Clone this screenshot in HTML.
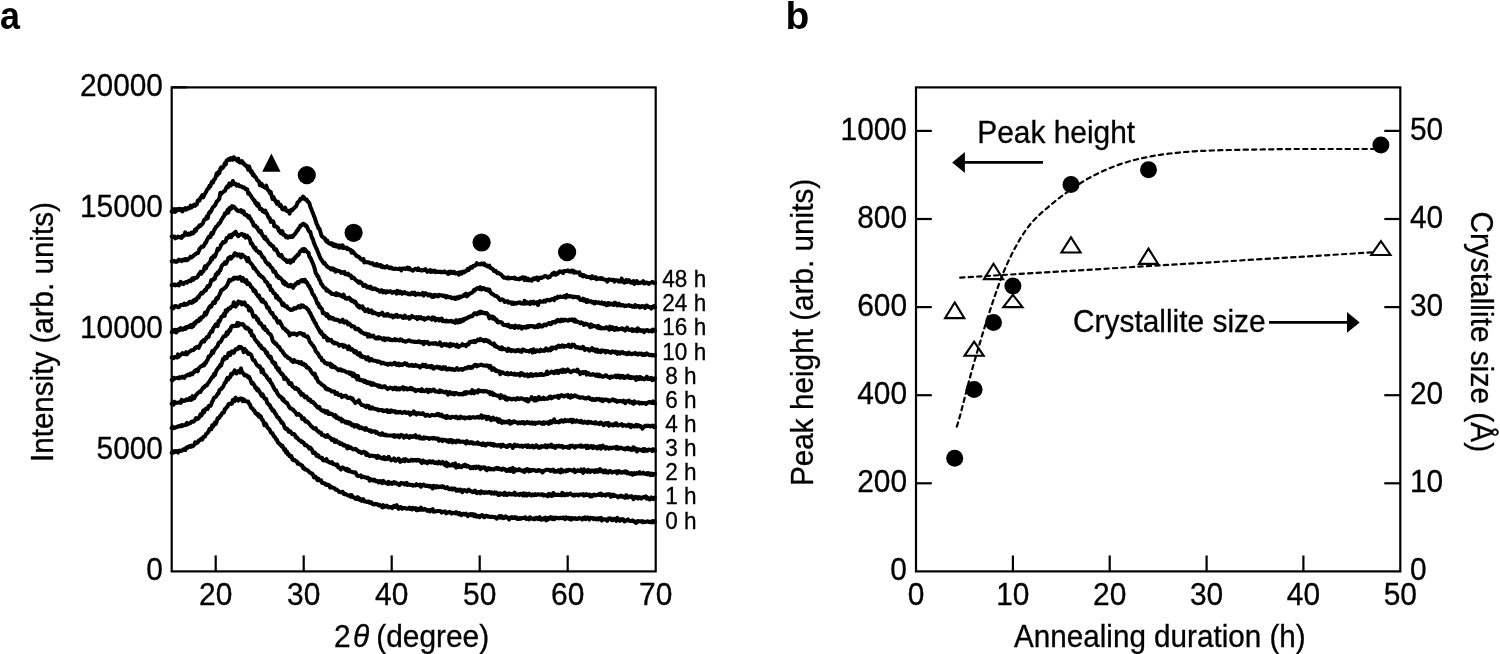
<!DOCTYPE html>
<html><head><meta charset="utf-8"><style>
html,body{margin:0;padding:0;background:#fff;width:1500px;height:654px;overflow:hidden;}
svg{display:block;will-change:transform;}
</style></head><body>
<svg width="1500" height="654" viewBox="0 0 1500 654">
<rect width="1500" height="654" fill="#fff"/>
<g font-family="'Liberation Sans', sans-serif" font-weight="bold" fill="#000">
<text transform="translate(0.00,28.50) scale(0.92,1)" font-size="39">a</text>
<text transform="translate(785.50,28.50)" font-size="39">b</text>
</g>
<g stroke="#000" stroke-width="2.2" fill="none">
<rect x="171.7" y="87.4" width="484.0" height="484.0"/>
<line x1="215.7" y1="571.4" x2="215.7" y2="555.4"/>
<line x1="303.7" y1="571.4" x2="303.7" y2="555.4"/>
<line x1="391.7" y1="571.4" x2="391.7" y2="555.4"/>
<line x1="479.7" y1="571.4" x2="479.7" y2="555.4"/>
<line x1="567.7" y1="571.4" x2="567.7" y2="555.4"/>
<line x1="171.7" y1="450.4" x2="186.9" y2="450.4"/>
<line x1="171.7" y1="329.3" x2="186.9" y2="329.3"/>
<line x1="171.7" y1="208.3" x2="186.9" y2="208.3"/>
<line x1="171.7" y1="87.3" x2="186.9" y2="87.3"/>
</g>
<g font-family="'Liberation Sans', sans-serif" fill="#000" stroke="#000" stroke-width="0.3">
<text transform="translate(163.00,580.00) scale(1.0,1.035)" font-size="29.9" text-anchor="end">0</text>
<text transform="translate(163.00,458.98) scale(1.0,1.035)" font-size="29.9" text-anchor="end">5000</text>
<text transform="translate(163.00,337.95) scale(1.0,1.035)" font-size="29.9" text-anchor="end">10000</text>
<text transform="translate(163.00,216.92) scale(1.0,1.035)" font-size="29.9" text-anchor="end">15000</text>
<text transform="translate(163.00,95.90) scale(1.0,1.035)" font-size="29.9" text-anchor="end">20000</text>
<text transform="translate(215.70,604.90) scale(1.0,1.035)" font-size="29.9" text-anchor="middle">20</text>
<text transform="translate(303.70,604.90) scale(1.0,1.035)" font-size="29.9" text-anchor="middle">30</text>
<text transform="translate(391.70,604.90) scale(1.0,1.035)" font-size="29.9" text-anchor="middle">40</text>
<text transform="translate(479.70,604.90) scale(1.0,1.035)" font-size="29.9" text-anchor="middle">50</text>
<text transform="translate(567.70,604.90) scale(1.0,1.035)" font-size="29.9" text-anchor="middle">60</text>
<text transform="translate(655.70,604.90) scale(1.0,1.035)" font-size="29.9" text-anchor="middle">70</text>
<text transform="translate(52.60,462.00) rotate(-90) scale(0.99,1.035)" font-size="29.9">Intensity (arb. units)</text>
<text transform="translate(334.00,646.80) scale(1.0,1.035)" font-size="29.9">2</text>
<text transform="translate(353.10,646.80) scale(1.0,1.035)" font-size="29.9" font-style="italic">θ</text>
<text transform="translate(376.20,646.80) scale(1.0,1.035)" font-size="29.9">(degree)</text>
<text transform="translate(665.30,528.50) scale(0.98,1.0)" font-size="23">0 h</text>
<text transform="translate(665.30,504.36) scale(0.98,1.0)" font-size="23">1 h</text>
<text transform="translate(665.30,480.22) scale(0.98,1.0)" font-size="23">2 h</text>
<text transform="translate(665.30,456.08) scale(0.98,1.0)" font-size="23">3 h</text>
<text transform="translate(665.30,431.94) scale(0.98,1.0)" font-size="23">4 h</text>
<text transform="translate(665.30,407.80) scale(0.98,1.0)" font-size="23">6 h</text>
<text transform="translate(665.30,383.66) scale(0.98,1.0)" font-size="23">8 h</text>
<text transform="translate(662.30,359.52) scale(0.98,1.0)" font-size="23">10 h</text>
<text transform="translate(662.30,335.38) scale(0.98,1.0)" font-size="23">16 h</text>
<text transform="translate(662.30,311.24) scale(0.98,1.0)" font-size="23">24 h</text>
<text transform="translate(662.30,287.10) scale(0.98,1.0)" font-size="23">48 h</text>
</g>
<g stroke="#000" stroke-width="4.0" fill="none" stroke-linejoin="round" stroke-linecap="round">
<path d="M171.7,452.8 172.6,452.9 173.5,452.4 174.4,451.7 175.3,451.9 176.2,451.2 177.1,451.8 178.0,452.6 178.9,450.9 179.8,450.5 180.7,451.1 181.6,450.8 182.5,450.3 183.4,449.2 184.3,449.6 185.2,449.9 186.1,447.9 187.0,448.3 187.9,446.7 188.8,446.9 189.7,446.0 190.6,446.9 191.5,445.6 192.4,446.4 193.3,445.8 194.2,444.9 195.1,442.3 196.0,443.4 196.9,443.1 197.8,442.6 198.7,440.4 199.6,440.5 200.5,439.3 201.4,438.6 202.3,439.6 203.2,436.9 204.1,436.7 205.0,436.6 205.9,434.2 206.8,433.5 207.7,432.7 208.6,431.5 209.5,429.0 210.4,429.2 211.3,429.3 212.2,425.2 213.1,426.5 214.0,424.6 214.9,422.5 215.8,424.1 216.7,421.6 217.6,418.2 218.5,418.3 219.4,417.6 220.3,415.5 221.2,415.2 222.1,413.2 223.0,412.8 223.9,412.6 224.8,409.1 225.7,409.0 226.6,407.1 227.5,406.7 228.4,404.2 229.3,404.0 230.2,403.6 231.1,404.0 232.0,403.5 232.9,399.8 233.8,399.8 234.7,401.1 235.6,397.6 236.5,399.1 237.4,399.2 238.3,400.6 239.2,399.7 240.1,398.4 241.0,398.4 241.9,398.7 242.8,401.2 243.7,399.3 244.6,400.0 245.5,401.3 246.4,401.3 247.3,401.8 248.2,401.6 249.1,403.8 250.0,404.4 250.9,407.4 251.8,408.1 252.7,408.5 253.6,410.5 254.5,410.6 255.4,413.3 256.3,413.2 257.2,414.9 258.1,413.9 259.0,416.8 259.9,415.7 260.8,416.4 261.7,419.3 262.6,419.8 263.5,422.0 264.4,425.3 265.3,423.3 266.2,424.6 267.1,426.7 268.0,428.2 268.9,428.8 269.8,430.0 270.7,432.2 271.6,433.3 272.5,433.2 273.4,435.4 274.3,436.8 275.2,437.1 276.1,439.6 277.0,439.8 277.9,442.6 278.8,443.1 279.7,444.2 280.6,444.7 281.5,446.3 282.4,445.8 283.3,447.7 284.2,450.0 285.1,449.0 286.0,452.5 286.9,451.4 287.8,454.4 288.7,454.0 289.6,456.2 290.5,456.6 291.4,456.1 292.3,459.1 293.2,460.1 294.1,459.7 295.0,460.3 295.9,461.2 296.8,461.3 297.7,463.7 298.6,463.2 299.5,464.3 300.4,464.5 301.3,465.3 302.2,465.5 303.1,468.2 304.0,467.8 304.9,469.4 305.8,469.4 306.7,469.6 307.6,470.6 308.5,471.1 309.4,472.3 310.3,472.7 311.2,473.5 312.1,473.5 313.0,474.7 313.9,477.4 314.8,476.4 315.7,476.8 316.6,478.7 317.5,480.2 318.4,478.7 319.3,480.4 320.2,480.7 321.1,480.4 322.0,482.9 322.9,482.8 323.8,483.4 324.7,483.3 325.6,484.6 326.5,484.3 327.4,485.1 328.3,484.8 329.2,485.1 330.1,487.5 331.0,486.6 331.9,487.6 332.8,487.8 333.7,488.0 334.6,488.4 335.5,489.7 336.4,489.5 337.3,490.1 338.2,490.7 339.1,492.0 340.0,492.1 340.9,492.3 341.8,492.0 342.7,491.7 343.6,493.8 344.5,494.2 345.4,493.7 346.3,494.5 347.2,495.0 348.1,495.4 349.0,495.8 349.9,495.1 350.8,496.8 351.7,495.1 352.6,497.0 353.5,497.1 354.4,497.7 355.3,498.8 356.2,498.9 357.1,497.3 358.0,497.3 358.9,499.6 359.8,498.6 360.7,499.7 361.6,500.8 362.5,499.3 363.4,499.3 364.3,501.4 365.2,501.5 366.1,501.6 367.0,502.1 367.9,501.7 368.8,501.5 369.7,502.8 370.6,502.5 371.5,502.3 372.4,504.1 373.3,503.9 374.2,504.5 375.1,503.7 376.0,504.2 376.9,504.1 377.8,504.4 378.7,505.4 379.6,504.9 380.5,505.9 381.4,506.1 382.3,507.5 383.2,505.1 384.1,507.0 385.0,506.4 385.9,506.5 386.8,505.6 387.7,506.4 388.6,507.4 389.5,506.9 390.4,507.2 391.3,507.0 392.2,508.1 393.1,507.3 394.0,505.8 394.9,507.0 395.8,506.1 396.7,505.2 397.6,507.3 398.5,508.8 399.4,507.8 400.3,507.0 401.2,507.2 402.1,508.8 403.0,508.1 403.9,508.1 404.8,508.0 405.7,508.2 406.6,508.8 407.5,508.7 408.4,508.5 409.3,507.6 410.2,508.9 411.1,508.0 412.0,509.5 412.9,507.8 413.8,508.7 414.7,508.9 415.6,508.0 416.5,510.3 417.4,510.2 418.3,508.9 419.2,509.9 420.1,509.7 421.0,507.5 421.9,509.7 422.8,509.6 423.7,509.7 424.6,508.9 425.5,509.6 426.4,509.8 427.3,510.9 428.2,510.3 429.1,510.1 430.0,511.3 430.9,509.9 431.8,510.1 432.7,509.1 433.6,511.7 434.5,511.3 435.4,511.4 436.3,511.3 437.2,511.0 438.1,511.1 439.0,510.9 439.9,511.0 440.8,511.3 441.7,512.6 442.6,512.0 443.5,511.6 444.4,511.4 445.3,511.5 446.2,513.3 447.1,512.6 448.0,512.5 448.9,512.3 449.8,511.8 450.7,512.7 451.6,513.6 452.5,512.7 453.4,513.0 454.3,513.1 455.2,513.4 456.1,512.2 457.0,513.4 457.9,513.0 458.8,514.4 459.7,513.2 460.6,514.4 461.5,515.2 462.4,513.9 463.3,513.7 464.2,514.4 465.1,514.4 466.0,513.7 466.9,514.9 467.8,516.1 468.7,514.5 469.6,514.7 470.5,514.1 471.4,515.2 472.3,514.1 473.2,514.3 474.1,516.2 475.0,514.6 475.9,516.2 476.8,516.7 477.7,515.8 478.6,516.1 479.5,517.2 480.4,515.7 481.3,515.5 482.2,515.0 483.1,516.2 484.0,517.3 484.9,517.0 485.8,515.7 486.7,515.8 487.6,516.2 488.5,516.8 489.4,516.5 490.3,516.9 491.2,517.0 492.1,516.7 493.0,516.9 493.9,517.2 494.8,517.0 495.7,517.5 496.6,518.6 497.5,517.7 498.4,517.3 499.3,516.1 500.2,517.7 501.1,516.0 502.0,516.4 502.9,518.2 503.8,518.1 504.7,517.5 505.6,516.4 506.5,517.4 507.4,517.3 508.3,518.3 509.2,519.5 510.1,518.1 511.0,517.3 511.9,517.1 512.8,518.0 513.7,517.9 514.6,517.2 515.5,518.2 516.4,517.3 517.3,519.0 518.2,519.0 519.1,519.0 520.0,517.9 520.9,518.7 521.8,518.2 522.7,518.0 523.6,518.1 524.5,517.4 525.4,517.3 526.3,519.0 527.2,518.3 528.1,518.6 529.0,519.3 529.9,517.2 530.8,518.0 531.7,518.7 532.6,518.9 533.5,518.3 534.4,519.4 535.3,518.8 536.2,517.7 537.1,517.9 538.0,519.2 538.9,518.9 539.8,517.2 540.7,519.6 541.6,519.0 542.5,519.5 543.4,518.2 544.3,518.3 545.2,517.6 546.1,520.4 547.0,518.3 547.9,519.6 548.8,517.9 549.7,518.5 550.6,517.2 551.5,518.1 552.4,519.1 553.3,517.5 554.2,519.2 555.1,518.7 556.0,517.6 556.9,518.0 557.8,518.1 558.7,518.4 559.6,518.0 560.5,517.8 561.4,518.2 562.3,517.7 563.2,517.5 564.1,518.4 565.0,519.1 565.9,517.3 566.8,518.5 567.7,518.0 568.6,517.8 569.5,519.1 570.4,518.1 571.3,519.6 572.2,518.0 573.1,518.8 574.0,518.4 574.9,518.0 575.8,519.0 576.7,518.5 577.6,519.1 578.5,518.6 579.4,517.8 580.3,518.6 581.2,518.7 582.1,519.4 583.0,518.0 583.9,518.7 584.8,517.4 585.7,519.2 586.6,517.9 587.5,517.4 588.4,518.7 589.3,519.6 590.2,517.7 591.1,518.0 592.0,518.3 592.9,518.0 593.8,519.2 594.7,518.3 595.6,518.4 596.5,519.4 597.4,518.4 598.3,519.4 599.2,518.3 600.1,518.2 601.0,517.8 601.9,520.6 602.8,519.0 603.7,519.4 604.6,519.3 605.5,519.4 606.4,519.4 607.3,520.8 608.2,518.6 609.1,518.3 610.0,518.7 610.9,518.5 611.8,520.2 612.7,520.2 613.6,519.0 614.5,518.7 615.4,519.5 616.3,520.9 617.2,517.7 618.1,520.3 619.0,519.2 619.9,520.8 620.8,519.3 621.7,520.0 622.6,519.1 623.5,519.6 624.4,521.5 625.3,521.1 626.2,520.3 627.1,520.0 628.0,519.4 628.9,520.6 629.8,520.9 630.7,521.0 631.6,521.0 632.5,520.4 633.4,521.2 634.3,521.3 635.2,522.4 636.1,522.9 637.0,521.4 637.9,521.0 638.8,521.6 639.7,521.2 640.6,521.2 641.5,521.7 642.4,521.0 643.3,522.3 644.2,521.8 645.1,522.1 646.0,521.8 646.9,521.4 647.8,521.3 648.7,521.9 649.6,521.7 650.5,522.3 651.4,522.2 652.3,521.2 653.2,522.3 654.1,521.2 655.0,521.8"/>
<path d="M171.7,428.1 172.6,426.6 173.5,428.2 174.4,428.0 175.3,427.6 176.2,427.2 177.1,427.0 178.0,426.2 178.9,426.5 179.8,426.1 180.7,426.3 181.6,425.0 182.5,425.9 183.4,425.5 184.3,425.0 185.2,424.5 186.1,425.0 187.0,422.8 187.9,424.2 188.8,423.6 189.7,423.3 190.6,422.9 191.5,421.6 192.4,421.4 193.3,421.7 194.2,420.9 195.1,420.1 196.0,418.0 196.9,419.1 197.8,418.9 198.7,418.1 199.6,416.6 200.5,414.2 201.4,415.6 202.3,413.8 203.2,410.6 204.1,412.4 205.0,409.6 205.9,408.7 206.8,408.2 207.7,408.9 208.6,406.1 209.5,405.5 210.4,405.8 211.3,404.4 212.2,401.5 213.1,400.1 214.0,397.8 214.9,397.1 215.8,396.9 216.7,395.6 217.6,393.9 218.5,393.5 219.4,390.2 220.3,389.6 221.2,389.1 222.1,387.7 223.0,387.0 223.9,385.0 224.8,382.9 225.7,382.5 226.6,379.7 227.5,377.8 228.4,379.4 229.3,377.6 230.2,377.1 231.1,373.8 232.0,374.5 232.9,373.4 233.8,372.5 234.7,370.4 235.6,372.3 236.5,373.4 237.4,372.5 238.3,371.1 239.2,371.6 240.1,372.5 241.0,368.4 241.9,371.8 242.8,373.0 243.7,373.7 244.6,375.5 245.5,375.5 246.4,375.2 247.3,375.9 248.2,377.4 249.1,376.9 250.0,378.7 250.9,381.1 251.8,383.6 252.7,382.5 253.6,384.0 254.5,385.6 255.4,388.1 256.3,387.7 257.2,390.5 258.1,389.0 259.0,391.0 259.9,392.2 260.8,394.4 261.7,395.8 262.6,394.3 263.5,396.1 264.4,398.5 265.3,398.7 266.2,399.0 267.1,402.8 268.0,403.5 268.9,404.8 269.8,405.2 270.7,408.0 271.6,408.1 272.5,410.7 273.4,410.2 274.3,411.5 275.2,413.8 276.1,414.3 277.0,416.7 277.9,417.6 278.8,417.7 279.7,419.8 280.6,420.6 281.5,422.8 282.4,422.6 283.3,423.9 284.2,426.4 285.1,428.3 286.0,429.1 286.9,428.5 287.8,429.6 288.7,431.6 289.6,431.2 290.5,431.4 291.4,433.1 292.3,434.2 293.2,434.0 294.1,434.1 295.0,435.1 295.9,437.5 296.8,437.2 297.7,438.4 298.6,439.5 299.5,440.5 300.4,440.6 301.3,441.9 302.2,441.6 303.1,442.7 304.0,442.9 304.9,445.3 305.8,445.1 306.7,445.3 307.6,446.3 308.5,447.1 309.4,448.6 310.3,447.6 311.2,448.8 312.1,450.0 313.0,453.0 313.9,452.6 314.8,452.6 315.7,454.0 316.6,455.8 317.5,454.8 318.4,455.4 319.3,457.3 320.2,457.4 321.1,458.1 322.0,457.8 322.9,460.1 323.8,460.5 324.7,460.1 325.6,460.7 326.5,459.1 327.4,461.5 328.3,461.4 329.2,462.3 330.1,462.9 331.0,462.6 331.9,462.0 332.8,464.0 333.7,463.7 334.6,464.5 335.5,464.7 336.4,465.4 337.3,464.4 338.2,467.5 339.1,467.2 340.0,468.3 340.9,469.4 341.8,468.4 342.7,467.4 343.6,468.4 344.5,468.5 345.4,469.4 346.3,470.2 347.2,468.9 348.1,471.0 349.0,469.9 349.9,471.6 350.8,471.6 351.7,471.8 352.6,472.3 353.5,472.3 354.4,472.6 355.3,472.2 356.2,473.8 357.1,475.6 358.0,476.1 358.9,476.0 359.8,475.9 360.7,475.3 361.6,477.3 362.5,476.5 363.4,476.8 364.3,477.0 365.2,477.6 366.1,477.5 367.0,478.1 367.9,477.6 368.8,478.5 369.7,480.7 370.6,479.2 371.5,479.4 372.4,480.2 373.3,480.6 374.2,479.5 375.1,480.4 376.0,481.4 376.9,481.1 377.8,481.2 378.7,482.5 379.6,481.0 380.5,481.8 381.4,481.5 382.3,483.2 383.2,480.8 384.1,481.9 385.0,482.1 385.9,483.1 386.8,483.2 387.7,483.9 388.6,481.8 389.5,483.7 390.4,483.0 391.3,482.8 392.2,483.8 393.1,482.8 394.0,482.0 394.9,483.3 395.8,482.6 396.7,483.3 397.6,484.1 398.5,484.1 399.4,485.1 400.3,483.8 401.2,482.8 402.1,483.5 403.0,483.4 403.9,483.2 404.8,484.5 405.7,483.8 406.6,482.8 407.5,484.9 408.4,484.3 409.3,484.8 410.2,484.7 411.1,485.1 412.0,484.8 412.9,485.7 413.8,485.2 414.7,485.3 415.6,485.4 416.5,484.1 417.4,485.1 418.3,485.1 419.2,485.6 420.1,484.5 421.0,486.8 421.9,485.7 422.8,484.8 423.7,484.5 424.6,485.6 425.5,485.9 426.4,485.5 427.3,486.1 428.2,485.7 429.1,486.6 430.0,485.8 430.9,486.3 431.8,487.2 432.7,488.5 433.6,485.9 434.5,486.4 435.4,486.2 436.3,487.5 437.2,486.1 438.1,486.7 439.0,487.2 439.9,486.5 440.8,486.7 441.7,487.2 442.6,486.1 443.5,486.7 444.4,487.6 445.3,488.2 446.2,488.1 447.1,487.0 448.0,488.2 448.9,489.2 449.8,489.2 450.7,488.8 451.6,488.3 452.5,489.6 453.4,488.8 454.3,488.5 455.2,488.8 456.1,490.6 457.0,489.8 457.9,490.6 458.8,489.5 459.7,490.6 460.6,489.6 461.5,490.0 462.4,492.1 463.3,490.9 464.2,490.0 465.1,490.4 466.0,490.8 466.9,491.6 467.8,490.4 468.7,489.5 469.6,490.7 470.5,491.0 471.4,491.2 472.3,492.2 473.2,491.5 474.1,491.9 475.0,490.6 475.9,492.2 476.8,493.2 477.7,492.3 478.6,492.0 479.5,492.0 480.4,493.3 481.3,491.4 482.2,492.1 483.1,492.6 484.0,492.9 484.9,492.1 485.8,492.7 486.7,492.3 487.6,492.7 488.5,492.6 489.4,491.9 490.3,492.8 491.2,493.6 492.1,492.3 493.0,492.9 493.9,493.6 494.8,492.4 495.7,493.4 496.6,492.5 497.5,494.2 498.4,495.1 499.3,495.0 500.2,493.3 501.1,494.1 502.0,493.7 502.9,493.7 503.8,494.8 504.7,492.7 505.6,494.6 506.5,493.8 507.4,494.9 508.3,494.0 509.2,493.4 510.1,494.2 511.0,494.6 511.9,494.1 512.8,494.5 513.7,493.7 514.6,492.6 515.5,494.9 516.4,494.7 517.3,494.4 518.2,494.3 519.1,495.1 520.0,494.0 520.9,493.8 521.8,494.3 522.7,495.3 523.6,493.4 524.5,495.4 525.4,494.0 526.3,493.7 527.2,495.5 528.1,494.5 529.0,493.6 529.9,494.4 530.8,495.3 531.7,495.5 532.6,494.3 533.5,495.0 534.4,495.2 535.3,494.2 536.2,495.0 537.1,494.7 538.0,494.3 538.9,494.3 539.8,494.7 540.7,494.7 541.6,494.2 542.5,494.3 543.4,495.5 544.3,494.8 545.2,495.2 546.1,495.5 547.0,495.0 547.9,496.2 548.8,493.9 549.7,495.1 550.6,494.3 551.5,495.9 552.4,495.8 553.3,493.0 554.2,493.8 555.1,495.0 556.0,495.1 556.9,495.1 557.8,494.5 558.7,494.9 559.6,495.0 560.5,494.5 561.4,495.3 562.3,492.8 563.2,495.0 564.1,493.8 565.0,495.3 565.9,494.4 566.8,493.9 567.7,494.9 568.6,493.9 569.5,493.9 570.4,493.4 571.3,494.6 572.2,495.0 573.1,495.4 574.0,494.6 574.9,495.5 575.8,494.7 576.7,494.6 577.6,495.1 578.5,495.5 579.4,494.5 580.3,494.6 581.2,494.6 582.1,494.8 583.0,494.1 583.9,495.6 584.8,494.5 585.7,495.2 586.6,494.2 587.5,495.1 588.4,495.2 589.3,494.6 590.2,496.4 591.1,495.2 592.0,496.3 592.9,495.7 593.8,494.5 594.7,494.7 595.6,495.4 596.5,495.1 597.4,495.1 598.3,494.9 599.2,493.8 600.1,495.0 601.0,493.6 601.9,495.5 602.8,494.8 603.7,494.8 604.6,495.2 605.5,495.6 606.4,494.4 607.3,494.2 608.2,494.7 609.1,494.0 610.0,494.9 610.9,496.8 611.8,494.9 612.7,496.2 613.6,494.7 614.5,496.0 615.4,495.6 616.3,495.9 617.2,496.4 618.1,497.3 619.0,496.2 619.9,496.2 620.8,495.5 621.7,496.7 622.6,496.2 623.5,497.1 624.4,496.5 625.3,497.9 626.2,495.2 627.1,496.6 628.0,497.5 628.9,496.7 629.8,496.5 630.7,496.9 631.6,496.2 632.5,497.4 633.4,499.2 634.3,498.3 635.2,496.7 636.1,496.9 637.0,497.3 637.9,498.4 638.8,497.1 639.7,497.3 640.6,498.5 641.5,498.5 642.4,497.6 643.3,497.1 644.2,496.8 645.1,497.5 646.0,496.4 646.9,498.7 647.8,497.7 648.7,498.5 649.6,499.6 650.5,499.1 651.4,497.4 652.3,498.9 653.2,499.2 654.1,497.8 655.0,497.7"/>
<path d="M171.7,403.8 172.6,402.6 173.5,404.8 174.4,401.7 175.3,402.5 176.2,402.9 177.1,402.7 178.0,402.8 178.9,402.6 179.8,402.0 180.7,402.8 181.6,399.9 182.5,401.4 183.4,400.5 184.3,400.9 185.2,400.7 186.1,399.4 187.0,399.3 187.9,400.1 188.8,399.4 189.7,398.1 190.6,400.0 191.5,399.8 192.4,396.1 193.3,397.1 194.2,398.4 195.1,396.3 196.0,395.1 196.9,394.1 197.8,393.1 198.7,392.6 199.6,391.5 200.5,391.9 201.4,390.0 202.3,389.1 203.2,387.5 204.1,387.6 205.0,385.8 205.9,385.4 206.8,385.5 207.7,383.7 208.6,382.6 209.5,381.3 210.4,379.8 211.3,378.4 212.2,377.0 213.1,376.9 214.0,373.7 214.9,375.0 215.8,372.3 216.7,370.1 217.6,369.0 218.5,367.5 219.4,367.1 220.3,364.8 221.2,365.5 222.1,362.1 223.0,359.1 223.9,359.7 224.8,357.0 225.7,358.1 226.6,358.2 227.5,356.6 228.4,353.2 229.3,352.9 230.2,355.0 231.1,352.4 232.0,351.2 232.9,351.7 233.8,352.8 234.7,351.0 235.6,349.2 236.5,349.1 237.4,349.2 238.3,347.5 239.2,346.8 240.1,348.1 241.0,347.0 241.9,348.3 242.8,348.9 243.7,352.1 244.6,348.9 245.5,350.4 246.4,351.0 247.3,352.4 248.2,354.0 249.1,353.3 250.0,354.1 250.9,354.4 251.8,356.5 252.7,359.5 253.6,360.3 254.5,360.3 255.4,362.3 256.3,363.9 257.2,365.5 258.1,365.5 259.0,367.0 259.9,366.4 260.8,368.3 261.7,372.3 262.6,369.5 263.5,372.6 264.4,374.3 265.3,374.9 266.2,375.7 267.1,377.6 268.0,378.9 268.9,380.1 269.8,379.7 270.7,382.7 271.6,383.3 272.5,385.0 273.4,387.0 274.3,388.7 275.2,390.2 276.1,390.2 277.0,392.7 277.9,394.1 278.8,395.3 279.7,396.7 280.6,396.5 281.5,397.6 282.4,399.6 283.3,398.8 284.2,401.3 285.1,401.7 286.0,402.9 286.9,402.7 287.8,404.4 288.7,406.1 289.6,407.7 290.5,408.6 291.4,408.6 292.3,409.4 293.2,409.7 294.1,411.4 295.0,411.7 295.9,413.2 296.8,414.8 297.7,414.2 298.6,413.8 299.5,415.1 300.4,415.4 301.3,416.3 302.2,419.0 303.1,418.9 304.0,418.3 304.9,420.7 305.8,421.8 306.7,421.3 307.6,421.8 308.5,422.8 309.4,424.0 310.3,425.0 311.2,426.2 312.1,427.0 313.0,427.8 313.9,428.7 314.8,428.9 315.7,428.1 316.6,429.9 317.5,431.0 318.4,431.2 319.3,432.8 320.2,432.5 321.1,432.7 322.0,435.0 322.9,435.0 323.8,435.2 324.7,436.2 325.6,436.8 326.5,436.7 327.4,435.0 328.3,436.8 329.2,437.4 330.1,437.4 331.0,438.8 331.9,440.0 332.8,439.2 333.7,439.2 334.6,442.0 335.5,440.7 336.4,440.6 337.3,442.1 338.2,442.7 339.1,442.4 340.0,443.9 340.9,443.4 341.8,443.5 342.7,444.7 343.6,445.5 344.5,444.8 345.4,445.9 346.3,445.9 347.2,448.4 348.1,446.1 349.0,448.0 349.9,447.2 350.8,447.5 351.7,448.4 352.6,448.9 353.5,449.5 354.4,449.2 355.3,448.8 356.2,449.3 357.1,450.5 358.0,450.9 358.9,451.9 359.8,451.6 360.7,452.5 361.6,453.2 362.5,452.5 363.4,451.7 364.3,452.2 365.2,452.3 366.1,454.9 367.0,453.4 367.9,455.3 368.8,455.1 369.7,456.2 370.6,455.9 371.5,455.4 372.4,455.6 373.3,456.0 374.2,456.3 375.1,456.0 376.0,456.6 376.9,458.0 377.8,455.8 378.7,457.4 379.6,456.8 380.5,457.8 381.4,458.4 382.3,457.9 383.2,458.7 384.1,457.1 385.0,459.3 385.9,458.1 386.8,459.1 387.7,458.9 388.6,456.9 389.5,458.4 390.4,459.3 391.3,460.3 392.2,459.5 393.1,459.5 394.0,458.4 394.9,460.6 395.8,460.9 396.7,459.7 397.6,459.5 398.5,458.5 399.4,460.5 400.3,461.9 401.2,460.4 402.1,460.9 403.0,460.4 403.9,459.3 404.8,461.1 405.7,459.2 406.6,460.0 407.5,460.5 408.4,461.0 409.3,460.7 410.2,460.8 411.1,460.0 412.0,459.7 412.9,460.8 413.8,460.3 414.7,459.9 415.6,460.0 416.5,460.7 417.4,459.7 418.3,460.2 419.2,460.1 420.1,461.5 421.0,461.8 421.9,463.0 422.8,460.5 423.7,461.2 424.6,462.4 425.5,461.7 426.4,461.7 427.3,463.3 428.2,461.8 429.1,461.3 430.0,461.2 430.9,462.5 431.8,462.6 432.7,461.4 433.6,461.8 434.5,463.0 435.4,463.1 436.3,462.3 437.2,463.3 438.1,463.4 439.0,461.7 439.9,462.9 440.8,463.6 441.7,463.0 442.6,461.9 443.5,463.5 444.4,464.4 445.3,465.2 446.2,462.5 447.1,466.2 448.0,463.6 448.9,465.3 449.8,465.6 450.7,465.5 451.6,465.0 452.5,464.1 453.4,465.6 454.3,464.7 455.2,463.4 456.1,467.6 457.0,466.1 457.9,467.0 458.8,465.0 459.7,466.9 460.6,467.1 461.5,467.2 462.4,466.1 463.3,465.3 464.2,466.1 465.1,464.7 466.0,465.2 466.9,466.6 467.8,465.9 468.7,466.6 469.6,466.7 470.5,468.3 471.4,468.0 472.3,467.0 473.2,468.1 474.1,466.7 475.0,467.1 475.9,468.1 476.8,466.6 477.7,467.4 478.6,466.7 479.5,467.9 480.4,469.1 481.3,467.4 482.2,468.2 483.1,467.5 484.0,467.3 484.9,467.4 485.8,469.5 486.7,470.2 487.6,468.9 488.5,468.1 489.4,469.2 490.3,468.5 491.2,469.4 492.1,469.1 493.0,469.2 493.9,469.5 494.8,468.6 495.7,468.8 496.6,467.9 497.5,468.9 498.4,468.2 499.3,469.2 500.2,468.7 501.1,469.5 502.0,469.8 502.9,468.5 503.8,469.0 504.7,468.9 505.6,470.2 506.5,471.0 507.4,470.4 508.3,469.5 509.2,470.9 510.1,468.8 511.0,471.0 511.9,469.5 512.8,467.9 513.7,472.0 514.6,471.2 515.5,469.3 516.4,470.2 517.3,470.0 518.2,470.3 519.1,469.1 520.0,469.7 520.9,470.6 521.8,470.5 522.7,471.2 523.6,470.4 524.5,472.1 525.4,469.9 526.3,470.6 527.2,469.0 528.1,469.5 529.0,471.5 529.9,469.8 530.8,470.9 531.7,470.5 532.6,469.8 533.5,470.3 534.4,470.2 535.3,470.2 536.2,471.2 537.1,471.1 538.0,470.2 538.9,469.9 539.8,470.8 540.7,470.5 541.6,471.3 542.5,472.5 543.4,471.2 544.3,470.5 545.2,470.4 546.1,469.8 547.0,469.8 547.9,469.7 548.8,470.1 549.7,470.1 550.6,471.0 551.5,470.1 552.4,470.3 553.3,469.5 554.2,471.6 555.1,470.8 556.0,471.7 556.9,471.0 557.8,471.5 558.7,470.2 559.6,471.0 560.5,472.5 561.4,469.5 562.3,471.3 563.2,471.7 564.1,470.8 565.0,471.0 565.9,471.4 566.8,470.0 567.7,470.8 568.6,469.8 569.5,470.0 570.4,470.0 571.3,470.4 572.2,470.6 573.1,470.9 574.0,469.5 574.9,472.1 575.8,471.5 576.7,471.1 577.6,470.3 578.5,470.5 579.4,471.0 580.3,471.0 581.2,469.4 582.1,471.2 583.0,472.9 583.9,469.3 584.8,471.5 585.7,471.0 586.6,470.6 587.5,471.8 588.4,469.9 589.3,470.9 590.2,471.9 591.1,470.7 592.0,470.5 592.9,471.0 593.8,470.6 594.7,472.1 595.6,470.3 596.5,471.7 597.4,470.0 598.3,471.6 599.2,471.0 600.1,469.1 601.0,471.1 601.9,470.3 602.8,470.9 603.7,472.4 604.6,470.4 605.5,470.5 606.4,472.5 607.3,471.5 608.2,472.6 609.1,471.7 610.0,470.8 610.9,471.5 611.8,472.5 612.7,472.4 613.6,471.7 614.5,471.8 615.4,471.7 616.3,471.4 617.2,473.3 618.1,471.9 619.0,471.1 619.9,471.7 620.8,472.7 621.7,472.7 622.6,472.2 623.5,471.8 624.4,472.5 625.3,471.2 626.2,471.6 627.1,473.3 628.0,472.4 628.9,473.2 629.8,473.9 630.7,473.5 631.6,473.1 632.5,474.8 633.4,473.8 634.3,473.1 635.2,474.0 636.1,473.8 637.0,472.9 637.9,473.6 638.8,473.5 639.7,472.2 640.6,473.6 641.5,473.5 642.4,473.5 643.3,472.6 644.2,473.6 645.1,473.9 646.0,474.0 646.9,473.1 647.8,474.5 648.7,473.1 649.6,473.9 650.5,475.1 651.4,473.6 652.3,473.8 653.2,475.0 654.1,474.0 655.0,474.0"/>
<path d="M171.7,379.9 172.6,380.4 173.5,377.7 174.4,378.7 175.3,378.3 176.2,378.1 177.1,378.0 178.0,377.8 178.9,378.4 179.8,377.2 180.7,377.8 181.6,377.8 182.5,376.6 183.4,377.0 184.3,378.0 185.2,376.6 186.1,375.5 187.0,375.6 187.9,374.5 188.8,375.2 189.7,375.3 190.6,373.4 191.5,373.5 192.4,374.2 193.3,372.2 194.2,372.2 195.1,370.5 196.0,370.1 196.9,369.6 197.8,371.3 198.7,368.3 199.6,367.4 200.5,366.6 201.4,366.1 202.3,366.0 203.2,364.7 204.1,365.5 205.0,362.8 205.9,362.9 206.8,360.7 207.7,359.8 208.6,356.6 209.5,356.8 210.4,355.6 211.3,354.2 212.2,351.1 213.1,353.0 214.0,350.5 214.9,349.2 215.8,348.1 216.7,346.9 217.6,346.2 218.5,343.1 219.4,342.2 220.3,342.2 221.2,340.8 222.1,339.0 223.0,337.5 223.9,336.1 224.8,335.8 225.7,336.1 226.6,332.4 227.5,334.3 228.4,332.5 229.3,330.0 230.2,330.6 231.1,327.1 232.0,325.9 232.9,325.8 233.8,326.3 234.7,326.0 235.6,325.4 236.5,325.8 237.4,322.8 238.3,325.8 239.2,323.4 240.1,324.2 241.0,324.6 241.9,324.0 242.8,324.1 243.7,325.0 244.6,326.7 245.5,328.0 246.4,328.6 247.3,327.5 248.2,328.6 249.1,329.4 250.0,332.2 250.9,330.5 251.8,335.5 252.7,334.8 253.6,335.8 254.5,338.3 255.4,340.2 256.3,340.6 257.2,342.4 258.1,342.5 259.0,344.8 259.9,345.9 260.8,345.6 261.7,348.3 262.6,348.1 263.5,349.2 264.4,349.3 265.3,351.1 266.2,353.3 267.1,352.4 268.0,355.6 268.9,356.6 269.8,357.8 270.7,356.7 271.6,360.0 272.5,362.1 273.4,362.1 274.3,364.2 275.2,363.2 276.1,367.2 277.0,367.2 277.9,369.8 278.8,368.5 279.7,371.9 280.6,372.3 281.5,374.3 282.4,374.0 283.3,375.4 284.2,378.9 285.1,377.3 286.0,378.5 286.9,379.8 287.8,380.2 288.7,382.9 289.6,384.2 290.5,383.1 291.4,383.2 292.3,386.3 293.2,387.1 294.1,387.6 295.0,388.7 295.9,387.9 296.8,389.2 297.7,389.0 298.6,389.8 299.5,392.4 300.4,391.9 301.3,394.9 302.2,393.9 303.1,394.1 304.0,395.9 304.9,397.4 305.8,397.1 306.7,396.6 307.6,398.5 308.5,400.0 309.4,399.3 310.3,399.8 311.2,402.0 312.1,402.1 313.0,401.9 313.9,403.3 314.8,403.8 315.7,405.4 316.6,406.0 317.5,407.5 318.4,407.9 319.3,406.9 320.2,409.0 321.1,410.0 322.0,410.2 322.9,411.2 323.8,410.5 324.7,410.7 325.6,412.6 326.5,411.5 327.4,411.2 328.3,414.0 329.2,413.1 330.1,413.9 331.0,413.5 331.9,414.0 332.8,414.6 333.7,415.7 334.6,416.7 335.5,415.2 336.4,418.0 337.3,417.0 338.2,417.6 339.1,419.3 340.0,419.2 340.9,418.6 341.8,421.5 342.7,419.9 343.6,421.1 344.5,421.4 345.4,422.6 346.3,421.6 347.2,423.0 348.1,422.0 349.0,423.7 349.9,422.6 350.8,423.3 351.7,425.3 352.6,424.4 353.5,424.6 354.4,426.6 355.3,425.5 356.2,425.0 357.1,426.6 358.0,425.6 358.9,427.7 359.8,428.2 360.7,427.2 361.6,427.6 362.5,428.5 363.4,428.8 364.3,428.4 365.2,429.8 366.1,428.2 367.0,429.7 367.9,430.0 368.8,430.4 369.7,431.1 370.6,430.3 371.5,431.9 372.4,431.6 373.3,431.5 374.2,431.2 375.1,431.5 376.0,432.9 376.9,432.1 377.8,433.1 378.7,434.0 379.6,434.2 380.5,434.8 381.4,433.6 382.3,433.2 383.2,434.9 384.1,434.5 385.0,435.3 385.9,434.6 386.8,435.6 387.7,435.4 388.6,435.4 389.5,435.4 390.4,435.4 391.3,435.4 392.2,435.4 393.1,436.1 394.0,435.0 394.9,436.8 395.8,435.5 396.7,436.4 397.6,435.6 398.5,435.6 399.4,437.3 400.3,435.6 401.2,434.9 402.1,435.4 403.0,435.7 403.9,437.7 404.8,436.2 405.7,436.8 406.6,435.4 407.5,436.5 408.4,436.8 409.3,437.8 410.2,436.0 411.1,437.0 412.0,436.9 412.9,436.0 413.8,436.8 414.7,436.7 415.6,435.2 416.5,437.5 417.4,437.5 418.3,436.9 419.2,436.3 420.1,438.5 421.0,437.6 421.9,438.3 422.8,438.7 423.7,437.3 424.6,438.4 425.5,437.6 426.4,437.8 427.3,437.9 428.2,438.0 429.1,439.0 430.0,438.3 430.9,438.2 431.8,438.1 432.7,438.7 433.6,437.8 434.5,438.2 435.4,438.7 436.3,438.4 437.2,438.8 438.1,438.5 439.0,440.6 439.9,440.2 440.8,439.6 441.7,439.4 442.6,441.2 443.5,439.9 444.4,439.8 445.3,440.2 446.2,440.3 447.1,441.3 448.0,440.4 448.9,442.1 449.8,440.0 450.7,441.3 451.6,440.2 452.5,442.4 453.4,440.9 454.3,441.2 455.2,442.0 456.1,442.4 457.0,440.7 457.9,441.4 458.8,440.7 459.7,441.9 460.6,441.8 461.5,441.7 462.4,441.6 463.3,441.9 464.2,441.7 465.1,442.8 466.0,443.6 466.9,441.1 467.8,442.5 468.7,442.4 469.6,443.2 470.5,442.2 471.4,442.9 472.3,442.3 473.2,443.7 474.1,443.3 475.0,443.2 475.9,443.7 476.8,443.3 477.7,442.4 478.6,444.1 479.5,444.0 480.4,443.7 481.3,444.7 482.2,445.0 483.1,443.3 484.0,443.6 484.9,445.5 485.8,445.4 486.7,443.9 487.6,443.6 488.5,444.1 489.4,444.3 490.3,443.6 491.2,444.8 492.1,443.9 493.0,444.0 493.9,445.7 494.8,444.6 495.7,445.1 496.6,445.6 497.5,445.8 498.4,445.0 499.3,445.4 500.2,444.8 501.1,446.8 502.0,446.0 502.9,444.7 503.8,445.6 504.7,446.2 505.6,446.0 506.5,447.1 507.4,446.8 508.3,445.4 509.2,445.8 510.1,444.9 511.0,446.1 511.9,446.1 512.8,448.0 513.7,446.1 514.6,444.5 515.5,445.6 516.4,446.2 517.3,445.2 518.2,445.5 519.1,445.9 520.0,446.5 520.9,446.1 521.8,445.6 522.7,446.9 523.6,445.9 524.5,446.0 525.4,445.4 526.3,445.8 527.2,446.9 528.1,445.3 529.0,446.4 529.9,447.1 530.8,446.3 531.7,446.7 532.6,445.7 533.5,447.6 534.4,447.4 535.3,446.8 536.2,445.3 537.1,445.8 538.0,447.3 538.9,447.9 539.8,446.8 540.7,447.5 541.6,446.1 542.5,446.4 543.4,446.5 544.3,446.8 545.2,445.3 546.1,447.2 547.0,447.4 547.9,445.6 548.8,445.4 549.7,446.7 550.6,445.9 551.5,444.6 552.4,447.0 553.3,446.5 554.2,446.0 555.1,448.0 556.0,446.5 556.9,445.8 557.8,446.5 558.7,445.6 559.6,445.9 560.5,446.7 561.4,446.0 562.3,446.1 563.2,447.7 564.1,447.1 565.0,447.1 565.9,446.9 566.8,446.8 567.7,447.6 568.6,446.5 569.5,447.9 570.4,445.8 571.3,446.3 572.2,445.5 573.1,446.3 574.0,446.9 574.9,447.7 575.8,446.1 576.7,446.6 577.6,446.3 578.5,446.1 579.4,445.7 580.3,446.7 581.2,445.4 582.1,446.7 583.0,446.7 583.9,446.2 584.8,445.9 585.7,445.7 586.6,448.1 587.5,445.7 588.4,447.9 589.3,447.2 590.2,446.5 591.1,446.0 592.0,447.6 592.9,448.2 593.8,446.2 594.7,446.7 595.6,447.7 596.5,447.2 597.4,448.5 598.3,446.6 599.2,447.5 600.1,446.2 601.0,448.7 601.9,446.6 602.8,445.5 603.7,447.1 604.6,447.2 605.5,448.7 606.4,447.1 607.3,447.4 608.2,447.9 609.1,448.7 610.0,447.5 610.9,448.3 611.8,448.0 612.7,447.4 613.6,447.7 614.5,447.7 615.4,447.1 616.3,448.7 617.2,446.8 618.1,448.8 619.0,448.7 619.9,448.0 620.8,447.5 621.7,448.0 622.6,448.6 623.5,448.9 624.4,448.6 625.3,449.3 626.2,448.2 627.1,448.9 628.0,447.6 628.9,449.4 629.8,449.1 630.7,448.7 631.6,450.0 632.5,449.7 633.4,447.2 634.3,449.4 635.2,448.3 636.1,450.3 637.0,451.4 637.9,449.2 638.8,449.7 639.7,449.5 640.6,450.0 641.5,450.3 642.4,450.8 643.3,449.1 644.2,451.1 645.1,449.2 646.0,450.2 646.9,450.9 647.8,450.6 648.7,449.4 649.6,449.6 650.5,449.8 651.4,450.1 652.3,451.0 653.2,449.2 654.1,450.6 655.0,450.7"/>
<path d="M171.7,357.5 172.6,357.4 173.5,358.1 174.4,357.1 175.3,357.2 176.2,356.8 177.1,357.5 178.0,354.4 178.9,356.6 179.8,355.2 180.7,354.9 181.6,354.1 182.5,353.1 183.4,354.0 184.3,353.5 185.2,354.2 186.1,352.2 187.0,354.3 187.9,353.0 188.8,352.2 189.7,351.4 190.6,350.9 191.5,350.2 192.4,350.2 193.3,350.1 194.2,349.4 195.1,347.7 196.0,348.0 196.9,346.8 197.8,347.0 198.7,347.8 199.6,345.9 200.5,344.2 201.4,342.2 202.3,341.5 203.2,340.4 204.1,341.7 205.0,339.3 205.9,339.0 206.8,337.2 207.7,336.8 208.6,336.9 209.5,333.7 210.4,332.8 211.3,331.1 212.2,331.7 213.1,328.5 214.0,327.2 214.9,325.7 215.8,324.4 216.7,325.1 217.6,326.1 218.5,321.0 219.4,321.8 220.3,319.8 221.2,317.0 222.1,316.7 223.0,315.6 223.9,313.9 224.8,315.8 225.7,310.2 226.6,311.8 227.5,310.6 228.4,308.6 229.3,308.5 230.2,308.5 231.1,306.8 232.0,306.4 232.9,306.0 233.8,302.2 234.7,306.1 235.6,306.7 236.5,304.8 237.4,304.6 238.3,301.5 239.2,302.9 240.1,302.0 241.0,302.4 241.9,304.5 242.8,302.7 243.7,304.0 244.6,302.4 245.5,305.0 246.4,305.9 247.3,305.7 248.2,306.5 249.1,310.5 250.0,308.1 250.9,309.5 251.8,311.0 252.7,314.5 253.6,316.8 254.5,316.0 255.4,316.0 256.3,317.4 257.2,320.1 258.1,319.0 259.0,322.7 259.9,323.7 260.8,323.4 261.7,325.1 262.6,326.3 263.5,328.2 264.4,326.6 265.3,330.0 266.2,329.6 267.1,330.4 268.0,332.5 268.9,333.4 269.8,334.0 270.7,334.7 271.6,336.6 272.5,340.2 273.4,342.0 274.3,342.0 275.2,343.8 276.1,343.5 277.0,345.0 277.9,346.5 278.8,346.5 279.7,347.7 280.6,349.8 281.5,350.6 282.4,351.0 283.3,353.3 284.2,353.8 285.1,355.8 286.0,355.9 286.9,356.5 287.8,357.7 288.7,358.2 289.6,358.5 290.5,359.3 291.4,360.7 292.3,361.1 293.2,362.0 294.1,360.0 295.0,361.3 295.9,361.5 296.8,362.1 297.7,361.8 298.6,362.0 299.5,363.2 300.4,362.9 301.3,362.1 302.2,364.4 303.1,364.6 304.0,363.9 304.9,365.6 305.8,365.1 306.7,367.4 307.6,367.2 308.5,367.7 309.4,369.0 310.3,369.8 311.2,371.7 312.1,372.9 313.0,374.0 313.9,374.8 314.8,373.6 315.7,377.7 316.6,377.4 317.5,380.2 318.4,382.0 319.3,382.4 320.2,382.9 321.1,383.9 322.0,384.8 322.9,385.3 323.8,386.0 324.7,386.4 325.6,388.6 326.5,388.2 327.4,389.5 328.3,389.1 329.2,389.8 330.1,390.0 331.0,390.9 331.9,391.6 332.8,391.6 333.7,391.3 334.6,391.7 335.5,393.9 336.4,392.8 337.3,393.2 338.2,394.9 339.1,395.0 340.0,395.0 340.9,394.7 341.8,397.1 342.7,395.9 343.6,396.4 344.5,396.2 345.4,395.6 346.3,396.0 347.2,397.7 348.1,398.0 349.0,397.9 349.9,397.6 350.8,397.7 351.7,399.0 352.6,398.5 353.5,400.7 354.4,401.4 355.3,403.1 356.2,402.1 357.1,401.5 358.0,401.7 358.9,400.3 359.8,402.9 360.7,403.7 361.6,405.0 362.5,405.1 363.4,405.5 364.3,405.6 365.2,406.3 366.1,407.2 367.0,405.7 367.9,406.4 368.8,406.0 369.7,408.6 370.6,408.6 371.5,408.5 372.4,407.3 373.3,408.6 374.2,408.5 375.1,409.0 376.0,409.0 376.9,409.7 377.8,409.3 378.7,410.4 379.6,410.1 380.5,409.9 381.4,410.2 382.3,410.1 383.2,411.2 384.1,410.6 385.0,411.1 385.9,410.8 386.8,410.1 387.7,412.0 388.6,410.6 389.5,412.0 390.4,411.9 391.3,410.4 392.2,411.1 393.1,411.5 394.0,411.3 394.9,411.1 395.8,412.6 396.7,412.0 397.6,412.5 398.5,411.9 399.4,412.5 400.3,411.8 401.2,412.4 402.1,412.9 403.0,412.5 403.9,412.2 404.8,411.8 405.7,412.8 406.6,413.0 407.5,412.6 408.4,412.3 409.3,413.3 410.2,414.8 411.1,412.8 412.0,413.4 412.9,413.5 413.8,411.4 414.7,413.5 415.6,412.9 416.5,414.6 417.4,413.4 418.3,413.1 419.2,413.6 420.1,414.0 421.0,413.5 421.9,414.0 422.8,413.1 423.7,414.0 424.6,414.8 425.5,415.8 426.4,414.9 427.3,414.7 428.2,415.4 429.1,415.4 430.0,415.9 430.9,415.6 431.8,414.8 432.7,415.1 433.6,415.2 434.5,415.3 435.4,415.3 436.3,414.7 437.2,413.8 438.1,415.0 439.0,414.1 439.9,415.7 440.8,415.8 441.7,414.7 442.6,416.6 443.5,416.8 444.4,416.4 445.3,417.7 446.2,418.0 447.1,415.8 448.0,417.6 448.9,417.3 449.8,417.4 450.7,417.9 451.6,416.8 452.5,417.0 453.4,416.9 454.3,417.0 455.2,417.6 456.1,416.6 457.0,417.0 457.9,418.3 458.8,417.8 459.7,418.2 460.6,416.5 461.5,417.3 462.4,417.5 463.3,417.9 464.2,417.4 465.1,418.5 466.0,417.7 466.9,417.7 467.8,417.6 468.7,418.1 469.6,417.1 470.5,418.2 471.4,417.6 472.3,417.3 473.2,417.1 474.1,417.4 475.0,417.7 475.9,417.6 476.8,417.1 477.7,417.4 478.6,416.9 479.5,417.7 480.4,416.8 481.3,415.3 482.2,417.9 483.1,417.1 484.0,416.3 484.9,417.1 485.8,416.8 486.7,419.2 487.6,418.2 488.5,416.8 489.4,418.6 490.3,418.2 491.2,420.1 492.1,418.2 493.0,417.5 493.9,419.5 494.8,419.4 495.7,419.6 496.6,418.5 497.5,420.7 498.4,421.8 499.3,419.3 500.2,421.8 501.1,420.7 502.0,423.0 502.9,421.7 503.8,421.4 504.7,422.5 505.6,422.2 506.5,421.5 507.4,422.5 508.3,421.7 509.2,420.8 510.1,423.8 511.0,422.0 511.9,421.9 512.8,422.7 513.7,421.3 514.6,421.5 515.5,422.2 516.4,422.2 517.3,422.7 518.2,423.5 519.1,422.3 520.0,423.1 520.9,423.2 521.8,422.0 522.7,423.0 523.6,422.1 524.5,423.7 525.4,423.2 526.3,422.9 527.2,421.9 528.1,423.0 529.0,422.4 529.9,423.5 530.8,422.9 531.7,422.4 532.6,423.7 533.5,423.5 534.4,422.5 535.3,423.8 536.2,422.7 537.1,422.7 538.0,423.0 538.9,422.3 539.8,422.4 540.7,422.6 541.6,423.8 542.5,423.7 543.4,422.3 544.3,423.7 545.2,422.4 546.1,422.6 547.0,422.9 547.9,422.4 548.8,423.9 549.7,422.1 550.6,421.0 551.5,422.8 552.4,421.4 553.3,421.4 554.2,419.3 555.1,422.2 556.0,422.0 556.9,421.9 557.8,422.0 558.7,422.4 559.6,421.1 560.5,421.7 561.4,420.4 562.3,420.7 563.2,421.7 564.1,421.2 565.0,419.9 565.9,421.1 566.8,420.7 567.7,420.2 568.6,421.2 569.5,420.6 570.4,419.7 571.3,420.1 572.2,422.3 573.1,419.9 574.0,421.3 574.9,421.6 575.8,421.7 576.7,420.4 577.6,421.2 578.5,421.6 579.4,422.2 580.3,421.2 581.2,420.9 582.1,422.6 583.0,422.8 583.9,422.4 584.8,421.7 585.7,422.6 586.6,422.4 587.5,423.1 588.4,421.6 589.3,422.7 590.2,422.6 591.1,422.0 592.0,423.0 592.9,423.0 593.8,422.7 594.7,423.4 595.6,422.1 596.5,423.2 597.4,423.6 598.3,423.6 599.2,424.2 600.1,422.6 601.0,422.4 601.9,423.7 602.8,424.0 603.7,425.2 604.6,424.2 605.5,423.1 606.4,424.4 607.3,423.2 608.2,422.8 609.1,425.9 610.0,424.2 610.9,424.6 611.8,424.5 612.7,425.5 613.6,424.4 614.5,425.1 615.4,423.5 616.3,423.3 617.2,425.4 618.1,425.5 619.0,424.9 619.9,424.7 620.8,424.7 621.7,424.2 622.6,425.9 623.5,425.3 624.4,425.3 625.3,425.3 626.2,425.9 627.1,425.6 628.0,425.8 628.9,424.5 629.8,425.8 630.7,427.2 631.6,425.2 632.5,425.6 633.4,426.4 634.3,426.6 635.2,426.4 636.1,424.8 637.0,426.4 637.9,425.2 638.8,425.5 639.7,426.6 640.6,426.0 641.5,426.9 642.4,428.7 643.3,426.9 644.2,426.9 645.1,425.8 646.0,426.0 646.9,425.7 647.8,426.1 648.7,425.7 649.6,426.1 650.5,426.5 651.4,425.9 652.3,425.6 653.2,425.7 654.1,427.1 655.0,426.8"/>
<path d="M171.7,332.2 172.6,332.1 173.5,330.9 174.4,331.6 175.3,329.8 176.2,332.5 177.1,331.4 178.0,330.1 178.9,329.1 179.8,330.1 180.7,328.1 181.6,328.7 182.5,329.7 183.4,328.9 184.3,328.1 185.2,329.0 186.1,327.1 187.0,327.8 187.9,326.8 188.8,326.2 189.7,326.9 190.6,325.2 191.5,327.3 192.4,324.7 193.3,326.3 194.2,323.1 195.1,323.9 196.0,321.7 196.9,320.8 197.8,321.4 198.7,321.1 199.6,318.5 200.5,319.9 201.4,317.3 202.3,317.3 203.2,316.6 204.1,315.8 205.0,312.5 205.9,314.7 206.8,312.6 207.7,310.4 208.6,308.7 209.5,306.8 210.4,305.9 211.3,306.6 212.2,304.5 213.1,302.5 214.0,301.9 214.9,302.9 215.8,299.6 216.7,298.1 217.6,298.9 218.5,296.6 219.4,294.9 220.3,292.9 221.2,290.6 222.1,289.8 223.0,289.4 223.9,288.6 224.8,288.1 225.7,287.2 226.6,285.7 227.5,284.6 228.4,282.2 229.3,279.9 230.2,281.0 231.1,279.8 232.0,279.5 232.9,279.4 233.8,277.8 234.7,277.6 235.6,278.6 236.5,278.6 237.4,277.5 238.3,278.7 239.2,277.8 240.1,276.9 241.0,278.3 241.9,280.7 242.8,278.0 243.7,280.7 244.6,281.5 245.5,282.2 246.4,280.1 247.3,284.1 248.2,282.8 249.1,283.4 250.0,284.5 250.9,286.7 251.8,287.3 252.7,288.3 253.6,291.2 254.5,290.1 255.4,290.9 256.3,294.0 257.2,295.0 258.1,296.5 259.0,295.3 259.9,298.7 260.8,299.1 261.7,301.5 262.6,299.5 263.5,302.1 264.4,302.7 265.3,302.5 266.2,304.6 267.1,307.6 268.0,307.2 268.9,308.2 269.8,311.0 270.7,312.3 271.6,313.6 272.5,313.2 273.4,315.2 274.3,317.4 275.2,317.1 276.1,318.3 277.0,320.9 277.9,322.7 278.8,321.4 279.7,321.3 280.6,323.4 281.5,324.9 282.4,326.7 283.3,328.3 284.2,328.7 285.1,329.1 286.0,330.7 286.9,330.6 287.8,332.1 288.7,332.2 289.6,335.5 290.5,334.4 291.4,333.4 292.3,333.6 293.2,334.2 294.1,333.3 295.0,334.0 295.9,333.9 296.8,335.0 297.7,333.9 298.6,333.4 299.5,332.9 300.4,332.9 301.3,333.8 302.2,333.8 303.1,335.1 304.0,334.2 304.9,336.1 305.8,336.2 306.7,336.9 307.6,336.4 308.5,338.0 309.4,340.8 310.3,342.6 311.2,343.0 312.1,344.9 313.0,345.5 313.9,347.0 314.8,348.3 315.7,351.1 316.6,352.1 317.5,353.0 318.4,354.3 319.3,356.3 320.2,357.3 321.1,357.6 322.0,360.5 322.9,360.4 323.8,361.0 324.7,362.9 325.6,363.3 326.5,363.1 327.4,364.2 328.3,363.5 329.2,364.3 330.1,363.6 331.0,366.6 331.9,364.7 332.8,367.1 333.7,366.3 334.6,366.6 335.5,367.6 336.4,368.3 337.3,368.9 338.2,370.1 339.1,369.4 340.0,370.1 340.9,369.4 341.8,370.7 342.7,370.6 343.6,370.5 344.5,371.1 345.4,371.5 346.3,372.0 347.2,372.6 348.1,372.3 349.0,372.5 349.9,374.0 350.8,372.6 351.7,373.9 352.6,376.0 353.5,373.3 354.4,375.3 355.3,376.9 356.2,375.7 357.1,379.4 358.0,376.0 358.9,379.6 359.8,380.2 360.7,380.2 361.6,379.9 362.5,380.8 363.4,380.3 364.3,382.0 365.2,380.9 366.1,381.9 367.0,383.2 367.9,382.0 368.8,382.9 369.7,383.6 370.6,382.7 371.5,384.9 372.4,384.6 373.3,383.4 374.2,384.8 375.1,384.5 376.0,384.8 376.9,385.6 377.8,385.2 378.7,386.6 379.6,385.6 380.5,387.0 381.4,386.5 382.3,387.3 383.2,386.4 384.1,386.6 385.0,386.2 385.9,387.7 386.8,388.1 387.7,389.1 388.6,388.6 389.5,387.9 390.4,387.6 391.3,388.2 392.2,388.0 393.1,389.2 394.0,388.8 394.9,387.6 395.8,387.8 396.7,389.4 397.6,388.6 398.5,388.3 399.4,389.4 400.3,388.3 401.2,388.4 402.1,388.3 403.0,387.2 403.9,389.4 404.8,387.9 405.7,388.4 406.6,388.3 407.5,389.5 408.4,389.0 409.3,389.1 410.2,387.9 411.1,389.2 412.0,388.2 412.9,389.6 413.8,389.8 414.7,389.6 415.6,391.2 416.5,390.2 417.4,390.3 418.3,390.0 419.2,389.9 420.1,390.8 421.0,391.0 421.9,389.2 422.8,391.1 423.7,390.8 424.6,391.2 425.5,390.9 426.4,389.7 427.3,389.8 428.2,392.1 429.1,391.0 430.0,389.8 430.9,391.2 431.8,390.8 432.7,389.8 433.6,389.5 434.5,390.1 435.4,391.6 436.3,391.4 437.2,391.4 438.1,391.9 439.0,392.2 439.9,390.3 440.8,391.8 441.7,391.5 442.6,391.3 443.5,392.0 444.4,392.4 445.3,392.5 446.2,391.7 447.1,392.6 448.0,394.6 448.9,392.4 449.8,392.0 450.7,393.6 451.6,393.9 452.5,393.9 453.4,392.8 454.3,394.5 455.2,393.2 456.1,392.9 457.0,393.4 457.9,393.8 458.8,394.4 459.7,394.3 460.6,393.8 461.5,394.5 462.4,393.7 463.3,394.3 464.2,392.4 465.1,392.2 466.0,393.8 466.9,392.0 467.8,392.7 468.7,392.7 469.6,392.2 470.5,392.0 471.4,393.2 472.3,390.1 473.2,392.4 474.1,393.3 475.0,391.4 475.9,391.2 476.8,391.7 477.7,392.4 478.6,390.1 479.5,391.0 480.4,390.7 481.3,391.3 482.2,391.1 483.1,391.6 484.0,390.9 484.9,391.4 485.8,391.1 486.7,391.3 487.6,392.0 488.5,392.3 489.4,391.8 490.3,394.2 491.2,393.3 492.1,392.7 493.0,394.9 493.9,393.8 494.8,395.1 495.7,395.1 496.6,395.6 497.5,395.8 498.4,395.6 499.3,396.3 500.2,398.1 501.1,395.1 502.0,397.1 502.9,397.6 503.8,396.6 504.7,396.6 505.6,399.4 506.5,397.6 507.4,399.6 508.3,398.6 509.2,398.3 510.1,398.7 511.0,398.9 511.9,399.4 512.8,398.9 513.7,398.7 514.6,398.8 515.5,399.7 516.4,399.4 517.3,398.1 518.2,398.4 519.1,399.1 520.0,398.4 520.9,398.7 521.8,398.3 522.7,398.8 523.6,399.3 524.5,399.8 525.4,399.1 526.3,400.6 527.2,399.0 528.1,401.5 529.0,399.9 529.9,399.5 530.8,398.8 531.7,397.0 532.6,399.0 533.5,399.2 534.4,400.5 535.3,398.0 536.2,400.4 537.1,398.8 538.0,399.5 538.9,397.0 539.8,398.9 540.7,398.5 541.6,399.2 542.5,398.6 543.4,397.6 544.3,399.1 545.2,398.8 546.1,398.6 547.0,398.7 547.9,398.7 548.8,397.7 549.7,396.6 550.6,396.4 551.5,398.3 552.4,397.7 553.3,397.2 554.2,396.6 555.1,396.8 556.0,396.7 556.9,396.3 557.8,395.9 558.7,398.0 559.6,396.4 560.5,395.7 561.4,395.1 562.3,395.4 563.2,396.4 564.1,396.4 565.0,395.6 565.9,395.8 566.8,395.5 567.7,394.9 568.6,396.8 569.5,396.1 570.4,397.7 571.3,395.4 572.2,395.9 573.1,396.7 574.0,396.0 574.9,395.2 575.8,395.7 576.7,396.6 577.6,396.9 578.5,396.7 579.4,397.7 580.3,397.8 581.2,397.4 582.1,397.4 583.0,397.3 583.9,398.0 584.8,398.5 585.7,398.0 586.6,398.4 587.5,397.9 588.4,397.3 589.3,397.7 590.2,399.1 591.1,399.0 592.0,400.0 592.9,398.9 593.8,399.6 594.7,400.1 595.6,399.9 596.5,398.8 597.4,399.2 598.3,399.5 599.2,398.8 600.1,399.9 601.0,400.4 601.9,399.3 602.8,401.2 603.7,399.6 604.6,399.7 605.5,399.7 606.4,399.4 607.3,400.3 608.2,400.1 609.1,401.4 610.0,400.6 610.9,400.6 611.8,400.1 612.7,399.3 613.6,400.3 614.5,399.8 615.4,401.2 616.3,400.5 617.2,401.8 618.1,401.2 619.0,401.3 619.9,400.9 620.8,401.0 621.7,401.4 622.6,401.7 623.5,400.5 624.4,401.5 625.3,403.2 626.2,401.2 627.1,401.2 628.0,401.0 628.9,400.5 629.8,402.5 630.7,401.8 631.6,402.0 632.5,403.3 633.4,403.9 634.3,401.4 635.2,402.9 636.1,402.6 637.0,402.5 637.9,402.6 638.8,402.3 639.7,403.6 640.6,402.9 641.5,402.7 642.4,403.4 643.3,403.2 644.2,402.9 645.1,402.9 646.0,404.0 646.9,403.1 647.8,402.7 648.7,402.1 649.6,402.5 650.5,402.0 651.4,402.9 652.3,403.1 653.2,401.4 654.1,403.0 655.0,403.5"/>
<path d="M171.7,307.6 172.6,306.7 173.5,308.3 174.4,306.6 175.3,306.1 176.2,306.0 177.1,306.7 178.0,307.3 178.9,307.2 179.8,306.2 180.7,304.9 181.6,305.1 182.5,304.7 183.4,305.0 184.3,303.5 185.2,304.7 186.1,304.8 187.0,303.9 187.9,304.0 188.8,302.5 189.7,301.7 190.6,302.0 191.5,303.0 192.4,302.5 193.3,300.6 194.2,301.5 195.1,299.5 196.0,300.4 196.9,298.7 197.8,297.1 198.7,297.4 199.6,295.2 200.5,294.2 201.4,292.8 202.3,293.5 203.2,292.3 204.1,291.3 205.0,289.9 205.9,290.5 206.8,287.6 207.7,286.1 208.6,286.8 209.5,285.8 210.4,283.5 211.3,280.1 212.2,280.1 213.1,280.1 214.0,278.3 214.9,278.7 215.8,274.3 216.7,275.2 217.6,272.5 218.5,273.4 219.4,270.6 220.3,270.5 221.2,267.4 222.1,265.4 223.0,264.6 223.9,264.0 224.8,262.4 225.7,263.8 226.6,262.8 227.5,260.5 228.4,258.0 229.3,258.2 230.2,256.8 231.1,258.7 232.0,256.9 232.9,256.7 233.8,255.3 234.7,253.2 235.6,254.5 236.5,254.0 237.4,255.7 238.3,255.4 239.2,254.3 240.1,254.9 241.0,257.4 241.9,254.6 242.8,255.1 243.7,256.4 244.6,256.4 245.5,257.3 246.4,259.1 247.3,261.2 248.2,258.0 249.1,261.1 250.0,262.3 250.9,263.4 251.8,264.5 252.7,265.6 253.6,268.3 254.5,267.9 255.4,269.4 256.3,270.6 257.2,271.8 258.1,272.5 259.0,274.9 259.9,274.8 260.8,276.1 261.7,276.9 262.6,277.0 263.5,278.3 264.4,279.2 265.3,281.5 266.2,281.7 267.1,282.5 268.0,285.0 268.9,286.5 269.8,285.5 270.7,290.0 271.6,289.6 272.5,290.7 273.4,293.0 274.3,293.3 275.2,293.9 276.1,297.6 277.0,295.8 277.9,297.7 278.8,299.7 279.7,299.1 280.6,301.0 281.5,302.4 282.4,305.1 283.3,303.3 284.2,304.9 285.1,306.4 286.0,306.7 286.9,306.3 287.8,308.3 288.7,308.5 289.6,309.2 290.5,310.0 291.4,310.1 292.3,309.6 293.2,309.5 294.1,308.1 295.0,308.6 295.9,308.5 296.8,307.5 297.7,307.4 298.6,306.1 299.5,307.5 300.4,307.6 301.3,305.4 302.2,305.9 303.1,305.5 304.0,307.0 304.9,306.9 305.8,307.4 306.7,308.1 307.6,309.4 308.5,309.8 309.4,312.4 310.3,312.9 311.2,315.4 312.1,316.8 313.0,319.3 313.9,320.2 314.8,322.8 315.7,323.1 316.6,325.9 317.5,327.0 318.4,328.9 319.3,330.4 320.2,332.4 321.1,331.5 322.0,334.4 322.9,334.2 323.8,337.2 324.7,335.7 325.6,337.2 326.5,337.4 327.4,340.5 328.3,338.9 329.2,340.5 330.1,340.4 331.0,339.9 331.9,341.4 332.8,342.6 333.7,342.3 334.6,343.5 335.5,342.8 336.4,343.4 337.3,343.5 338.2,344.3 339.1,345.8 340.0,344.9 340.9,345.1 341.8,344.8 342.7,345.0 343.6,347.0 344.5,345.4 345.4,345.9 346.3,346.9 347.2,347.0 348.1,349.2 349.0,346.4 349.9,348.9 350.8,349.7 351.7,348.8 352.6,349.7 353.5,351.0 354.4,352.5 355.3,351.1 356.2,351.2 357.1,353.7 358.0,354.7 358.9,353.9 359.8,353.1 360.7,356.4 361.6,355.7 362.5,357.2 363.4,356.8 364.3,356.9 365.2,357.3 366.1,359.1 367.0,359.5 367.9,357.2 368.8,358.4 369.7,360.7 370.6,359.4 371.5,359.0 372.4,360.3 373.3,360.5 374.2,360.7 375.1,360.7 376.0,361.0 376.9,361.2 377.8,362.0 378.7,361.3 379.6,361.9 380.5,362.2 381.4,363.5 382.3,362.9 383.2,362.7 384.1,363.4 385.0,363.4 385.9,364.1 386.8,363.7 387.7,364.8 388.6,364.6 389.5,363.7 390.4,363.5 391.3,364.5 392.2,364.4 393.1,364.0 394.0,363.0 394.9,362.8 395.8,364.5 396.7,364.9 397.6,365.0 398.5,363.5 399.4,365.3 400.3,364.2 401.2,364.9 402.1,365.0 403.0,364.1 403.9,364.3 404.8,363.2 405.7,364.2 406.6,363.5 407.5,365.3 408.4,365.1 409.3,365.8 410.2,365.4 411.1,364.8 412.0,365.6 412.9,365.1 413.8,366.0 414.7,365.8 415.6,364.9 416.5,365.8 417.4,365.9 418.3,365.7 419.2,366.7 420.1,367.4 421.0,365.9 421.9,366.0 422.8,364.6 423.7,366.3 424.6,366.1 425.5,364.9 426.4,366.8 427.3,367.1 428.2,366.2 429.1,366.5 430.0,366.2 430.9,367.5 431.8,365.9 432.7,366.9 433.6,368.7 434.5,367.3 435.4,367.7 436.3,367.4 437.2,366.7 438.1,367.6 439.0,368.1 439.9,367.1 440.8,368.2 441.7,369.0 442.6,369.0 443.5,367.2 444.4,367.8 445.3,367.4 446.2,369.6 447.1,369.4 448.0,369.6 448.9,368.5 449.8,368.4 450.7,369.4 451.6,369.5 452.5,368.9 453.4,369.7 454.3,370.1 455.2,369.8 456.1,368.9 457.0,368.1 457.9,369.5 458.8,369.8 459.7,369.4 460.6,369.2 461.5,368.9 462.4,369.8 463.3,369.1 464.2,369.0 465.1,368.0 466.0,368.1 466.9,368.4 467.8,367.3 468.7,366.8 469.6,367.2 470.5,368.1 471.4,367.0 472.3,367.6 473.2,366.2 474.1,365.7 475.0,364.7 475.9,365.0 476.8,366.3 477.7,365.3 478.6,365.5 479.5,365.4 480.4,364.8 481.3,364.6 482.2,364.9 483.1,365.4 484.0,365.4 484.9,365.7 485.8,365.7 486.7,365.3 487.6,366.0 488.5,365.8 489.4,367.7 490.3,365.8 491.2,367.6 492.1,370.0 493.0,368.4 493.9,368.3 494.8,369.6 495.7,371.0 496.6,370.3 497.5,371.3 498.4,371.3 499.3,371.3 500.2,374.3 501.1,372.3 502.0,372.2 502.9,372.5 503.8,373.4 504.7,373.6 505.6,374.1 506.5,373.8 507.4,372.8 508.3,374.4 509.2,373.9 510.1,374.0 511.0,373.2 511.9,374.0 512.8,374.0 513.7,374.6 514.6,373.6 515.5,374.7 516.4,374.8 517.3,374.0 518.2,374.4 519.1,374.2 520.0,375.6 520.9,373.0 521.8,374.7 522.7,373.7 523.6,374.7 524.5,375.7 525.4,374.6 526.3,375.2 527.2,374.4 528.1,376.5 529.0,375.8 529.9,375.9 530.8,374.1 531.7,374.3 532.6,375.9 533.5,374.9 534.4,374.8 535.3,375.2 536.2,374.0 537.1,375.4 538.0,374.8 538.9,375.1 539.8,374.1 540.7,374.9 541.6,373.9 542.5,375.0 543.4,375.0 544.3,374.7 545.2,374.3 546.1,374.2 547.0,371.5 547.9,374.0 548.8,373.0 549.7,373.1 550.6,372.6 551.5,371.6 552.4,372.1 553.3,372.8 554.2,373.2 555.1,371.5 556.0,371.1 556.9,372.7 557.8,370.8 558.7,372.9 559.6,371.2 560.5,370.4 561.4,371.6 562.3,372.1 563.2,369.6 564.1,371.8 565.0,370.3 565.9,371.6 566.8,370.2 567.7,369.3 568.6,370.9 569.5,371.2 570.4,372.2 571.3,372.0 572.2,371.3 573.1,370.7 574.0,370.6 574.9,370.9 575.8,370.7 576.7,371.3 577.6,369.7 578.5,372.0 579.4,372.0 580.3,374.1 581.2,373.0 582.1,372.2 583.0,373.2 583.9,372.1 584.8,372.7 585.7,371.9 586.6,374.6 587.5,374.2 588.4,373.0 589.3,374.0 590.2,374.9 591.1,374.7 592.0,374.8 592.9,374.0 593.8,374.3 594.7,375.0 595.6,375.7 596.5,374.5 597.4,374.4 598.3,376.2 599.2,374.7 600.1,376.3 601.0,375.7 601.9,376.3 602.8,377.0 603.7,376.3 604.6,376.4 605.5,375.2 606.4,375.4 607.3,376.5 608.2,377.2 609.1,377.1 610.0,377.9 610.9,376.4 611.8,376.4 612.7,377.1 613.6,376.4 614.5,376.4 615.4,375.7 616.3,377.2 617.2,375.7 618.1,377.0 619.0,375.6 619.9,377.6 620.8,376.0 621.7,377.5 622.6,375.8 623.5,376.7 624.4,378.0 625.3,376.6 626.2,377.4 627.1,377.0 628.0,375.7 628.9,377.8 629.8,378.0 630.7,376.9 631.6,378.2 632.5,377.3 633.4,377.2 634.3,378.1 635.2,377.6 636.1,379.9 637.0,377.1 637.9,378.8 638.8,379.1 639.7,376.9 640.6,377.1 641.5,378.9 642.4,378.1 643.3,378.8 644.2,379.4 645.1,378.3 646.0,377.9 646.9,376.6 647.8,378.9 648.7,378.1 649.6,379.0 650.5,379.0 651.4,377.8 652.3,380.2 653.2,379.7 654.1,379.6 655.0,378.1"/>
<path d="M171.7,285.2 172.6,285.0 173.5,285.0 174.4,284.3 175.3,285.4 176.2,285.1 177.1,285.0 178.0,284.2 178.9,285.4 179.8,284.3 180.7,281.8 181.6,283.3 182.5,283.5 183.4,284.1 184.3,282.8 185.2,282.6 186.1,282.0 187.0,282.7 187.9,281.5 188.8,281.0 189.7,280.5 190.6,281.2 191.5,279.8 192.4,278.4 193.3,279.8 194.2,278.0 195.1,278.3 196.0,277.6 196.9,277.5 197.8,276.6 198.7,274.3 199.6,273.8 200.5,271.9 201.4,273.8 202.3,271.7 203.2,271.7 204.1,269.0 205.0,266.2 205.9,268.5 206.8,266.0 207.7,264.8 208.6,263.5 209.5,262.8 210.4,261.4 211.3,258.0 212.2,259.5 213.1,256.7 214.0,255.5 214.9,256.6 215.8,254.4 216.7,251.8 217.6,248.9 218.5,249.8 219.4,248.9 220.3,247.0 221.2,244.5 222.1,243.8 223.0,242.1 223.9,242.6 224.8,242.2 225.7,241.3 226.6,238.1 227.5,238.1 228.4,237.5 229.3,235.4 230.2,235.1 231.1,237.3 232.0,234.6 232.9,235.1 233.8,233.4 234.7,233.8 235.6,231.7 236.5,233.7 237.4,235.1 238.3,236.2 239.2,235.2 240.1,234.7 241.0,234.2 241.9,233.7 242.8,234.6 243.7,236.0 244.6,234.9 245.5,237.6 246.4,236.0 247.3,235.8 248.2,237.7 249.1,238.0 250.0,239.5 250.9,243.5 251.8,243.2 252.7,245.0 253.6,247.2 254.5,248.5 255.4,247.7 256.3,250.8 257.2,250.8 258.1,251.4 259.0,252.9 259.9,252.0 260.8,253.7 261.7,255.5 262.6,257.3 263.5,257.3 264.4,258.7 265.3,260.9 266.2,262.4 267.1,262.8 268.0,264.5 268.9,264.0 269.8,265.2 270.7,267.0 271.6,267.6 272.5,268.6 273.4,271.8 274.3,271.2 275.2,271.6 276.1,274.1 277.0,276.4 277.9,275.8 278.8,277.9 279.7,277.5 280.6,278.4 281.5,279.2 282.4,280.7 283.3,283.3 284.2,281.6 285.1,284.7 286.0,283.2 286.9,284.5 287.8,286.0 288.7,286.2 289.6,286.2 290.5,284.8 291.4,286.5 292.3,285.3 293.2,287.9 294.1,285.3 295.0,285.2 295.9,283.5 296.8,283.4 297.7,282.0 298.6,283.1 299.5,281.5 300.4,281.5 301.3,280.2 302.2,280.1 303.1,281.4 304.0,279.9 304.9,279.8 305.8,282.3 306.7,282.0 307.6,283.7 308.5,286.0 309.4,286.1 310.3,289.0 311.2,289.5 312.1,292.9 313.0,294.6 313.9,295.2 314.8,297.3 315.7,298.7 316.6,301.3 317.5,303.9 318.4,303.6 319.3,307.0 320.2,306.8 321.1,308.6 322.0,309.1 322.9,313.2 323.8,312.7 324.7,313.7 325.6,313.9 326.5,315.9 327.4,314.2 328.3,316.3 329.2,318.5 330.1,317.0 331.0,317.7 331.9,318.6 332.8,317.8 333.7,318.8 334.6,319.8 335.5,319.5 336.4,319.9 337.3,319.7 338.2,320.4 339.1,320.5 340.0,321.8 340.9,321.5 341.8,321.1 342.7,319.7 343.6,322.4 344.5,322.7 345.4,321.8 346.3,321.4 347.2,322.4 348.1,324.4 349.0,323.3 349.9,324.2 350.8,325.2 351.7,326.5 352.6,326.1 353.5,326.6 354.4,326.8 355.3,329.0 356.2,329.2 357.1,329.0 358.0,328.6 358.9,329.6 359.8,331.2 360.7,330.8 361.6,332.6 362.5,332.7 363.4,333.1 364.3,333.8 365.2,334.1 366.1,333.5 367.0,334.2 367.9,336.6 368.8,334.3 369.7,335.1 370.6,336.6 371.5,336.0 372.4,335.8 373.3,335.6 374.2,337.3 375.1,337.9 376.0,338.4 376.9,337.6 377.8,338.5 378.7,337.2 379.6,338.3 380.5,337.8 381.4,338.6 382.3,339.2 383.2,339.6 384.1,338.2 385.0,340.1 385.9,338.9 386.8,338.6 387.7,339.4 388.6,338.5 389.5,339.7 390.4,340.0 391.3,339.7 392.2,340.4 393.1,339.8 394.0,340.1 394.9,339.1 395.8,340.3 396.7,339.7 397.6,340.1 398.5,340.4 399.4,340.6 400.3,339.3 401.2,339.4 402.1,340.4 403.0,341.0 403.9,341.0 404.8,341.5 405.7,341.8 406.6,341.3 407.5,340.9 408.4,340.3 409.3,340.4 410.2,340.8 411.1,341.5 412.0,341.5 412.9,341.4 413.8,341.4 414.7,342.1 415.6,341.8 416.5,342.0 417.4,342.1 418.3,341.5 419.2,341.2 420.1,342.4 421.0,342.5 421.9,342.1 422.8,342.0 423.7,344.1 424.6,341.9 425.5,342.4 426.4,342.8 427.3,341.8 428.2,342.8 429.1,344.2 430.0,343.6 430.9,343.4 431.8,343.5 432.7,343.2 433.6,343.9 434.5,343.2 435.4,343.1 436.3,343.6 437.2,344.3 438.1,343.9 439.0,344.3 439.9,342.4 440.8,344.9 441.7,345.9 442.6,345.2 443.5,344.1 444.4,343.9 445.3,344.8 446.2,344.0 447.1,345.4 448.0,344.6 448.9,345.9 449.8,346.3 450.7,343.8 451.6,345.6 452.5,345.0 453.4,344.5 454.3,345.1 455.2,345.4 456.1,346.4 457.0,344.5 457.9,346.4 458.8,347.0 459.7,345.9 460.6,345.7 461.5,345.2 462.4,344.2 463.3,345.3 464.2,345.0 465.1,345.0 466.0,346.1 466.9,344.4 467.8,343.9 468.7,344.4 469.6,341.9 470.5,341.7 471.4,341.9 472.3,341.3 473.2,342.0 474.1,340.9 475.0,342.1 475.9,341.7 476.8,340.8 477.7,339.7 478.6,340.3 479.5,340.3 480.4,338.9 481.3,339.9 482.2,340.2 483.1,340.0 484.0,341.2 484.9,341.1 485.8,339.9 486.7,340.9 487.6,340.6 488.5,342.0 489.4,341.4 490.3,343.2 491.2,343.3 492.1,344.2 493.0,343.9 493.9,343.4 494.8,346.3 495.7,345.4 496.6,347.0 497.5,346.8 498.4,347.4 499.3,348.7 500.2,347.9 501.1,349.1 502.0,347.3 502.9,349.3 503.8,348.8 504.7,349.1 505.6,349.4 506.5,349.9 507.4,351.0 508.3,348.6 509.2,350.1 510.1,349.7 511.0,351.2 511.9,350.1 512.8,350.8 513.7,350.3 514.6,351.1 515.5,351.4 516.4,350.4 517.3,350.8 518.2,349.8 519.1,351.1 520.0,351.5 520.9,350.5 521.8,351.8 522.7,349.4 523.6,349.6 524.5,350.0 525.4,350.7 526.3,351.1 527.2,351.0 528.1,351.0 529.0,351.6 529.9,350.7 530.8,350.1 531.7,350.1 532.6,352.6 533.5,349.2 534.4,350.8 535.3,352.0 536.2,351.2 537.1,350.2 538.0,350.7 538.9,351.3 539.8,351.4 540.7,349.7 541.6,350.9 542.5,350.3 543.4,350.8 544.3,350.9 545.2,349.4 546.1,348.4 547.0,349.6 547.9,350.5 548.8,349.5 549.7,348.9 550.6,350.3 551.5,347.6 552.4,348.8 553.3,347.5 554.2,347.8 555.1,347.6 556.0,348.5 556.9,346.4 557.8,346.5 558.7,345.6 559.6,347.0 560.5,346.1 561.4,346.6 562.3,345.4 563.2,345.8 564.1,346.8 565.0,345.8 565.9,346.3 566.8,346.2 567.7,345.6 568.6,344.7 569.5,346.6 570.4,346.1 571.3,346.8 572.2,344.6 573.1,345.0 574.0,344.8 574.9,345.9 575.8,347.5 576.7,347.4 577.6,347.1 578.5,347.4 579.4,348.1 580.3,347.5 581.2,348.3 582.1,348.3 583.0,346.8 583.9,348.3 584.8,349.9 585.7,348.8 586.6,349.2 587.5,349.0 588.4,349.3 589.3,350.7 590.2,349.8 591.1,349.4 592.0,348.0 592.9,350.1 593.8,349.2 594.7,349.4 595.6,351.5 596.5,351.6 597.4,349.7 598.3,351.9 599.2,351.7 600.1,350.8 601.0,352.1 601.9,350.4 602.8,350.8 603.7,350.7 604.6,351.0 605.5,352.5 606.4,350.9 607.3,351.1 608.2,351.3 609.1,352.2 610.0,351.9 610.9,352.8 611.8,351.7 612.7,351.3 613.6,352.0 614.5,352.4 615.4,351.7 616.3,352.7 617.2,353.9 618.1,352.2 619.0,352.7 619.9,353.7 620.8,352.3 621.7,352.2 622.6,352.1 623.5,353.3 624.4,353.5 625.3,353.1 626.2,353.3 627.1,354.3 628.0,354.1 628.9,352.5 629.8,353.6 630.7,353.8 631.6,354.3 632.5,353.7 633.4,353.5 634.3,353.7 635.2,352.8 636.1,354.1 637.0,353.8 637.9,354.6 638.8,353.5 639.7,354.0 640.6,353.7 641.5,353.6 642.4,355.0 643.3,354.2 644.2,354.9 645.1,353.8 646.0,354.7 646.9,353.4 647.8,354.3 648.7,354.4 649.6,355.2 650.5,354.9 651.4,354.7 652.3,355.5 653.2,355.0 654.1,355.3 655.0,355.5"/>
<path d="M171.7,261.4 172.6,261.2 173.5,261.6 174.4,260.9 175.3,261.5 176.2,261.9 177.1,261.6 178.0,260.5 178.9,259.7 179.8,260.5 180.7,260.3 181.6,261.1 182.5,259.8 183.4,259.7 184.3,260.2 185.2,259.0 186.1,259.0 187.0,260.2 187.9,259.7 188.8,258.7 189.7,258.0 190.6,256.6 191.5,257.5 192.4,256.5 193.3,256.1 194.2,254.8 195.1,254.5 196.0,253.6 196.9,253.2 197.8,253.3 198.7,251.4 199.6,248.6 200.5,248.3 201.4,246.7 202.3,246.4 203.2,246.7 204.1,245.4 205.0,243.2 205.9,242.8 206.8,240.5 207.7,238.5 208.6,237.1 209.5,236.3 210.4,237.2 211.3,233.1 212.2,234.4 213.1,233.2 214.0,230.3 214.9,229.1 215.8,227.1 216.7,226.4 217.6,225.7 218.5,223.7 219.4,223.4 220.3,222.3 221.2,220.1 222.1,218.8 223.0,217.2 223.9,216.5 224.8,213.6 225.7,214.0 226.6,212.5 227.5,210.1 228.4,212.6 229.3,208.1 230.2,207.7 231.1,208.8 232.0,206.1 232.9,207.4 233.8,206.6 234.7,207.5 235.6,208.7 236.5,209.5 237.4,210.7 238.3,210.6 239.2,211.3 240.1,210.9 241.0,210.0 241.9,212.4 242.8,211.0 243.7,211.4 244.6,214.6 245.5,214.4 246.4,214.6 247.3,216.2 248.2,217.4 249.1,216.0 250.0,218.7 250.9,218.8 251.8,221.6 252.7,222.0 253.6,225.5 254.5,225.8 255.4,225.5 256.3,227.5 257.2,227.3 258.1,229.7 259.0,231.4 259.9,232.1 260.8,230.9 261.7,233.6 262.6,235.6 263.5,236.4 264.4,238.3 265.3,236.9 266.2,239.8 267.1,239.7 268.0,241.6 268.9,242.9 269.8,244.2 270.7,244.1 271.6,245.9 272.5,245.7 273.4,246.5 274.3,249.4 275.2,249.8 276.1,249.4 277.0,251.1 277.9,252.9 278.8,255.2 279.7,255.6 280.6,256.3 281.5,254.9 282.4,257.2 283.3,258.5 284.2,259.1 285.1,259.8 286.0,259.9 286.9,262.0 287.8,262.1 288.7,261.0 289.6,260.3 290.5,262.7 291.4,260.3 292.3,261.3 293.2,261.3 294.1,258.2 295.0,258.2 295.9,256.6 296.8,256.1 297.7,254.7 298.6,254.8 299.5,252.5 300.4,251.0 301.3,251.1 302.2,249.4 303.1,249.1 304.0,251.1 304.9,249.2 305.8,250.3 306.7,251.7 307.6,252.1 308.5,252.8 309.4,256.9 310.3,257.4 311.2,259.6 312.1,261.9 313.0,263.7 313.9,265.9 314.8,269.1 315.7,273.1 316.6,274.1 317.5,276.3 318.4,276.7 319.3,279.8 320.2,280.7 321.1,283.8 322.0,284.6 322.9,286.2 323.8,287.3 324.7,288.0 325.6,288.2 326.5,290.6 327.4,289.9 328.3,290.7 329.2,291.9 330.1,292.0 331.0,293.2 331.9,294.1 332.8,293.8 333.7,294.1 334.6,294.2 335.5,295.0 336.4,293.2 337.3,295.1 338.2,294.3 339.1,294.3 340.0,295.4 340.9,295.3 341.8,296.3 342.7,296.9 343.6,294.6 344.5,296.6 345.4,298.5 346.3,298.0 347.2,298.9 348.1,298.3 349.0,297.6 349.9,298.4 350.8,300.3 351.7,301.1 352.6,300.4 353.5,301.4 354.4,302.5 355.3,301.6 356.2,303.4 357.1,305.5 358.0,306.6 358.9,305.6 359.8,307.7 360.7,306.5 361.6,306.9 362.5,306.4 363.4,309.3 364.3,308.8 365.2,311.3 366.1,310.2 367.0,310.5 367.9,309.4 368.8,312.2 369.7,311.1 370.6,311.6 371.5,310.4 372.4,313.0 373.3,313.3 374.2,312.4 375.1,313.1 376.0,313.6 376.9,314.2 377.8,313.8 378.7,315.2 379.6,313.9 380.5,313.8 381.4,314.1 382.3,312.7 383.2,314.2 384.1,315.7 385.0,315.3 385.9,314.6 386.8,315.6 387.7,313.9 388.6,315.3 389.5,316.0 390.4,316.3 391.3,315.3 392.2,316.6 393.1,317.4 394.0,315.8 394.9,316.7 395.8,315.1 396.7,314.8 397.6,316.8 398.5,316.4 399.4,316.6 400.3,316.1 401.2,316.3 402.1,317.2 403.0,317.9 403.9,316.5 404.8,315.5 405.7,317.8 406.6,317.3 407.5,317.4 408.4,317.1 409.3,318.8 410.2,317.2 411.1,317.6 412.0,315.9 412.9,316.9 413.8,316.9 414.7,317.5 415.6,317.9 416.5,317.2 417.4,319.1 418.3,317.1 419.2,317.6 420.1,318.2 421.0,317.2 421.9,318.6 422.8,318.7 423.7,318.1 424.6,319.8 425.5,318.5 426.4,318.8 427.3,317.9 428.2,317.4 429.1,318.3 430.0,318.6 430.9,318.6 431.8,319.6 432.7,317.3 433.6,318.3 434.5,317.9 435.4,320.4 436.3,319.0 437.2,319.1 438.1,318.8 439.0,320.4 439.9,319.5 440.8,320.1 441.7,318.5 442.6,321.1 443.5,320.6 444.4,320.9 445.3,321.5 446.2,320.6 447.1,320.7 448.0,321.5 448.9,321.4 449.8,321.0 450.7,321.3 451.6,320.9 452.5,321.9 453.4,322.1 454.3,321.4 455.2,322.8 456.1,320.2 457.0,321.2 457.9,322.5 458.8,320.8 459.7,319.8 460.6,321.9 461.5,321.0 462.4,319.5 463.3,320.7 464.2,319.0 465.1,318.4 466.0,318.9 466.9,318.3 467.8,317.3 468.7,317.4 469.6,316.4 470.5,316.7 471.4,316.1 472.3,316.2 473.2,314.8 474.1,313.6 475.0,313.2 475.9,313.5 476.8,314.5 477.7,313.7 478.6,312.3 479.5,313.3 480.4,311.6 481.3,313.1 482.2,312.1 483.1,313.1 484.0,313.2 484.9,312.8 485.8,313.6 486.7,313.0 487.6,314.2 488.5,315.6 489.4,318.4 490.3,316.5 491.2,316.7 492.1,316.5 493.0,318.7 493.9,317.3 494.8,318.7 495.7,320.2 496.6,319.6 497.5,322.3 498.4,322.5 499.3,321.8 500.2,322.3 501.1,322.2 502.0,322.6 502.9,324.4 503.8,324.9 504.7,325.0 505.6,325.2 506.5,324.9 507.4,325.8 508.3,324.6 509.2,325.9 510.1,327.2 511.0,327.2 511.9,325.9 512.8,326.1 513.7,327.5 514.6,327.9 515.5,325.5 516.4,326.4 517.3,326.9 518.2,327.7 519.1,326.2 520.0,327.3 520.9,326.7 521.8,328.7 522.7,327.3 523.6,326.9 524.5,326.7 525.4,327.8 526.3,327.5 527.2,326.2 528.1,327.2 529.0,326.0 529.9,326.4 530.8,326.0 531.7,325.9 532.6,326.4 533.5,326.1 534.4,327.2 535.3,327.3 536.2,326.5 537.1,325.7 538.0,327.1 538.9,324.8 539.8,324.8 540.7,326.6 541.6,326.4 542.5,326.5 543.4,325.4 544.3,324.4 545.2,324.7 546.1,325.3 547.0,324.1 547.9,323.9 548.8,323.1 549.7,323.0 550.6,324.2 551.5,323.7 552.4,322.2 553.3,321.9 554.2,322.0 555.1,322.6 556.0,321.0 556.9,321.5 557.8,319.8 558.7,320.2 559.6,321.2 560.5,321.4 561.4,319.6 562.3,319.8 563.2,320.8 564.1,319.8 565.0,319.6 565.9,320.3 566.8,320.0 567.7,320.7 568.6,320.5 569.5,319.5 570.4,319.9 571.3,320.1 572.2,319.3 573.1,319.7 574.0,321.4 574.9,319.6 575.8,321.8 576.7,321.5 577.6,321.5 578.5,322.3 579.4,322.5 580.3,323.3 581.2,322.4 582.1,322.8 583.0,323.1 583.9,325.0 584.8,324.6 585.7,323.5 586.6,324.2 587.5,324.2 588.4,325.0 589.3,325.4 590.2,327.2 591.1,324.3 592.0,326.7 592.9,326.4 593.8,325.7 594.7,326.3 595.6,326.2 596.5,326.8 597.4,327.7 598.3,325.9 599.2,328.1 600.1,327.0 601.0,328.5 601.9,327.8 602.8,328.5 603.7,328.1 604.6,328.5 605.5,327.8 606.4,327.2 607.3,328.4 608.2,328.5 609.1,329.6 610.0,326.6 610.9,328.0 611.8,329.0 612.7,327.3 613.6,328.1 614.5,330.0 615.4,329.5 616.3,327.8 617.2,329.6 618.1,329.5 619.0,329.2 619.9,329.0 620.8,329.0 621.7,328.2 622.6,328.6 623.5,329.6 624.4,329.2 625.3,330.6 626.2,329.0 627.1,327.6 628.0,329.2 628.9,329.8 629.8,329.9 630.7,329.8 631.6,329.2 632.5,331.0 633.4,329.5 634.3,330.6 635.2,329.9 636.1,329.3 637.0,331.3 637.9,328.4 638.8,329.7 639.7,330.7 640.6,330.1 641.5,331.0 642.4,330.4 643.3,330.2 644.2,332.2 645.1,330.4 646.0,330.5 646.9,329.9 647.8,330.1 648.7,331.2 649.6,331.2 650.5,330.8 651.4,330.3 652.3,331.4 653.2,329.6 654.1,330.7 655.0,330.8"/>
<path d="M171.7,236.5 172.6,237.2 173.5,236.5 174.4,236.4 175.3,238.3 176.2,237.4 177.1,237.6 178.0,236.6 178.9,237.2 179.8,237.0 180.7,237.2 181.6,238.0 182.5,235.7 183.4,235.9 184.3,235.4 185.2,232.4 186.1,233.8 187.0,234.7 187.9,234.9 188.8,233.5 189.7,234.6 190.6,234.3 191.5,232.5 192.4,233.6 193.3,233.3 194.2,231.5 195.1,229.5 196.0,230.8 196.9,228.5 197.8,227.4 198.7,226.9 199.6,225.4 200.5,225.9 201.4,224.6 202.3,224.0 203.2,222.4 204.1,219.9 205.0,219.3 205.9,219.0 206.8,216.4 207.7,218.3 208.6,213.8 209.5,212.1 210.4,212.4 211.3,210.7 212.2,208.5 213.1,207.0 214.0,206.3 214.9,205.4 215.8,203.9 216.7,201.4 217.6,200.8 218.5,199.9 219.4,198.4 220.3,192.8 221.2,193.9 222.1,192.7 223.0,192.1 223.9,191.4 224.8,191.0 225.7,189.3 226.6,187.1 227.5,186.1 228.4,187.1 229.3,183.4 230.2,184.0 231.1,185.3 232.0,183.8 232.9,181.0 233.8,184.0 234.7,183.3 235.6,183.9 236.5,185.6 237.4,185.2 238.3,184.6 239.2,186.3 240.1,186.2 241.0,186.2 241.9,186.9 242.8,187.4 243.7,187.3 244.6,187.8 245.5,189.1 246.4,188.9 247.3,189.5 248.2,193.6 249.1,193.1 250.0,194.6 250.9,195.8 251.8,197.3 252.7,198.7 253.6,200.0 254.5,200.3 255.4,203.4 256.3,202.7 257.2,205.8 258.1,203.7 259.0,205.7 259.9,209.0 260.8,208.8 261.7,209.2 262.6,211.2 263.5,210.5 264.4,212.2 265.3,210.5 266.2,213.0 267.1,213.9 268.0,216.4 268.9,218.2 269.8,218.1 270.7,221.9 271.6,221.1 272.5,220.9 273.4,221.7 274.3,226.3 275.2,225.9 276.1,226.4 277.0,227.2 277.9,227.9 278.8,231.0 279.7,230.6 280.6,233.1 281.5,232.3 282.4,231.2 283.3,234.7 284.2,234.4 285.1,235.2 286.0,237.2 286.9,236.2 287.8,237.7 288.7,236.9 289.6,236.3 290.5,237.2 291.4,236.0 292.3,237.0 293.2,236.1 294.1,234.6 295.0,234.0 295.9,232.8 296.8,230.9 297.7,230.5 298.6,228.3 299.5,227.7 300.4,225.4 301.3,225.4 302.2,225.0 303.1,223.7 304.0,224.1 304.9,224.4 305.8,226.2 306.7,226.1 307.6,228.3 308.5,230.6 309.4,231.5 310.3,231.9 311.2,235.3 312.1,238.2 313.0,239.5 313.9,242.9 314.8,244.9 315.7,247.1 316.6,248.9 317.5,251.0 318.4,253.3 319.3,255.5 320.2,257.7 321.1,259.4 322.0,260.4 322.9,262.0 323.8,263.5 324.7,263.1 325.6,264.7 326.5,265.6 327.4,266.8 328.3,267.3 329.2,267.9 330.1,267.9 331.0,269.5 331.9,269.5 332.8,268.4 333.7,269.9 334.6,269.3 335.5,271.7 336.4,270.2 337.3,270.5 338.2,271.0 339.1,271.0 340.0,271.3 340.9,272.8 341.8,272.0 342.7,272.7 343.6,273.2 344.5,271.9 345.4,274.2 346.3,273.9 347.2,274.5 348.1,273.6 349.0,275.3 349.9,275.5 350.8,275.4 351.7,278.1 352.6,277.5 353.5,277.5 354.4,278.5 355.3,279.7 356.2,280.6 357.1,280.9 358.0,282.0 358.9,282.9 359.8,281.5 360.7,282.7 361.6,283.0 362.5,284.3 363.4,285.9 364.3,285.8 365.2,284.9 366.1,285.9 367.0,287.3 367.9,286.5 368.8,287.2 369.7,287.9 370.6,286.6 371.5,288.8 372.4,288.8 373.3,289.2 374.2,288.3 375.1,288.7 376.0,289.1 376.9,289.9 377.8,290.0 378.7,290.3 379.6,291.7 380.5,291.5 381.4,290.2 382.3,290.4 383.2,292.3 384.1,291.0 385.0,292.4 385.9,292.7 386.8,291.2 387.7,291.5 388.6,291.9 389.5,291.3 390.4,291.3 391.3,291.8 392.2,292.8 393.1,291.9 394.0,292.2 394.9,292.1 395.8,291.5 396.7,293.7 397.6,290.9 398.5,292.2 399.4,293.1 400.3,291.7 401.2,293.3 402.1,293.8 403.0,292.3 403.9,293.1 404.8,292.2 405.7,293.4 406.6,293.2 407.5,293.3 408.4,294.3 409.3,293.7 410.2,294.4 411.1,293.9 412.0,292.7 412.9,293.8 413.8,294.1 414.7,292.7 415.6,294.9 416.5,294.0 417.4,294.3 418.3,293.5 419.2,294.3 420.1,294.5 421.0,294.1 421.9,294.5 422.8,292.9 423.7,295.6 424.6,293.8 425.5,293.1 426.4,294.1 427.3,294.3 428.2,295.4 429.1,294.3 430.0,295.3 430.9,294.5 431.8,296.9 432.7,295.8 433.6,296.9 434.5,294.8 435.4,296.1 436.3,295.0 437.2,296.2 438.1,296.4 439.0,294.8 439.9,295.2 440.8,295.3 441.7,295.2 442.6,295.9 443.5,295.9 444.4,295.6 445.3,296.9 446.2,297.4 447.1,296.1 448.0,296.8 448.9,297.3 449.8,297.2 450.7,297.0 451.6,298.2 452.5,298.2 453.4,298.1 454.3,297.5 455.2,299.1 456.1,298.9 457.0,297.2 457.9,297.4 458.8,298.2 459.7,296.6 460.6,297.3 461.5,296.8 462.4,296.0 463.3,296.1 464.2,294.7 465.1,295.1 466.0,293.6 466.9,296.4 467.8,295.4 468.7,294.6 469.6,293.4 470.5,293.4 471.4,293.1 472.3,292.3 473.2,291.7 474.1,289.8 475.0,290.4 475.9,289.2 476.8,288.3 477.7,288.0 478.6,288.9 479.5,289.1 480.4,287.2 481.3,289.5 482.2,289.3 483.1,288.0 484.0,288.2 484.9,288.7 485.8,289.9 486.7,289.3 487.6,289.2 488.5,290.9 489.4,289.7 490.3,292.0 491.2,293.4 492.1,293.4 493.0,294.5 493.9,294.9 494.8,295.8 495.7,296.0 496.6,296.0 497.5,297.0 498.4,297.7 499.3,299.3 500.2,300.1 501.1,299.7 502.0,299.2 502.9,299.7 503.8,300.4 504.7,302.0 505.6,301.5 506.5,301.4 507.4,301.1 508.3,302.6 509.2,302.3 510.1,302.2 511.0,302.5 511.9,303.8 512.8,302.5 513.7,304.0 514.6,303.7 515.5,302.9 516.4,303.6 517.3,302.9 518.2,302.4 519.1,302.8 520.0,302.4 520.9,303.5 521.8,303.2 522.7,303.6 523.6,303.8 524.5,300.9 525.4,303.5 526.3,301.9 527.2,303.4 528.1,302.6 529.0,303.3 529.9,304.2 530.8,301.9 531.7,303.3 532.6,303.1 533.5,301.7 534.4,303.5 535.3,303.0 536.2,302.5 537.1,302.2 538.0,305.1 538.9,302.3 539.8,301.1 540.7,301.6 541.6,301.8 542.5,301.6 543.4,301.7 544.3,300.7 545.2,301.7 546.1,300.7 547.0,299.8 547.9,299.9 548.8,300.0 549.7,300.6 550.6,300.1 551.5,299.2 552.4,299.1 553.3,299.0 554.2,300.1 555.1,297.8 556.0,298.3 556.9,298.2 557.8,296.7 558.7,297.3 559.6,297.0 560.5,296.4 561.4,296.9 562.3,297.1 563.2,297.0 564.1,295.9 565.0,296.1 565.9,297.6 566.8,295.0 567.7,296.0 568.6,296.5 569.5,296.0 570.4,296.5 571.3,296.2 572.2,296.8 573.1,297.4 574.0,296.5 574.9,297.0 575.8,297.0 576.7,297.0 577.6,297.6 578.5,297.0 579.4,298.7 580.3,299.8 581.2,300.1 582.1,300.0 583.0,298.7 583.9,300.8 584.8,299.5 585.7,300.2 586.6,302.0 587.5,300.0 588.4,301.7 589.3,301.6 590.2,301.5 591.1,301.2 592.0,302.4 592.9,301.9 593.8,303.2 594.7,303.5 595.6,301.8 596.5,302.6 597.4,302.9 598.3,302.3 599.2,302.5 600.1,303.5 601.0,303.4 601.9,302.4 602.8,303.4 603.7,304.2 604.6,303.0 605.5,303.3 606.4,305.3 607.3,305.1 608.2,303.0 609.1,303.3 610.0,304.6 610.9,303.5 611.8,304.2 612.7,304.1 613.6,305.0 614.5,302.7 615.4,303.0 616.3,303.8 617.2,305.5 618.1,304.7 619.0,303.6 619.9,305.3 620.8,305.5 621.7,304.9 622.6,304.9 623.5,305.6 624.4,306.2 625.3,305.5 626.2,305.9 627.1,305.6 628.0,305.4 628.9,305.1 629.8,306.0 630.7,305.7 631.6,305.8 632.5,306.8 633.4,306.5 634.3,306.9 635.2,305.1 636.1,306.8 637.0,306.0 637.9,305.9 638.8,305.9 639.7,307.5 640.6,307.2 641.5,306.1 642.4,305.9 643.3,306.8 644.2,306.4 645.1,308.1 646.0,305.8 646.9,305.5 647.8,306.7 648.7,307.0 649.6,307.1 650.5,307.6 651.4,308.6 652.3,306.8 653.2,306.7 654.1,305.8 655.0,307.4"/>
<path d="M171.7,211.6 172.6,210.6 173.5,211.7 174.4,210.7 175.3,211.8 176.2,210.8 177.1,209.7 178.0,209.9 178.9,209.1 179.8,208.8 180.7,210.3 181.6,210.6 182.5,211.3 183.4,209.5 184.3,209.2 185.2,208.2 186.1,209.7 187.0,208.9 187.9,207.8 188.8,208.5 189.7,208.0 190.6,205.6 191.5,207.4 192.4,206.4 193.3,205.4 194.2,204.7 195.1,205.8 196.0,204.8 196.9,204.2 197.8,200.6 198.7,200.1 199.6,200.5 200.5,197.6 201.4,197.0 202.3,195.0 203.2,197.4 204.1,195.5 205.0,193.7 205.9,192.2 206.8,190.2 207.7,188.9 208.6,188.5 209.5,185.8 210.4,186.4 211.3,183.3 212.2,181.5 213.1,182.5 214.0,179.7 214.9,179.1 215.8,176.7 216.7,173.4 217.6,175.1 218.5,171.7 219.4,173.1 220.3,168.9 221.2,167.3 222.1,168.5 223.0,167.5 223.9,166.0 224.8,163.3 225.7,164.5 226.6,160.5 227.5,160.4 228.4,159.1 229.3,158.8 230.2,159.8 231.1,158.0 232.0,159.5 232.9,159.8 233.8,157.2 234.7,158.2 235.6,159.4 236.5,159.5 237.4,161.0 238.3,158.7 239.2,162.2 240.1,162.6 241.0,162.0 241.9,161.0 242.8,163.2 243.7,163.1 244.6,165.0 245.5,164.9 246.4,166.7 247.3,166.4 248.2,169.6 249.1,166.5 250.0,169.2 250.9,172.2 251.8,171.2 252.7,175.0 253.6,174.1 254.5,176.7 255.4,176.7 256.3,178.3 257.2,180.1 258.1,180.8 259.0,181.6 259.9,185.3 260.8,184.0 261.7,183.8 262.6,186.4 263.5,186.7 264.4,187.2 265.3,187.8 266.2,185.5 267.1,188.4 268.0,190.1 268.9,190.9 269.8,193.1 270.7,191.8 271.6,195.6 272.5,199.0 273.4,196.8 274.3,199.0 275.2,200.7 276.1,202.0 277.0,203.9 277.9,201.7 278.8,204.3 279.7,205.9 280.6,204.8 281.5,206.8 282.4,209.2 283.3,209.5 284.2,209.5 285.1,207.5 286.0,210.1 286.9,211.0 287.8,210.7 288.7,211.0 289.6,213.6 290.5,210.7 291.4,209.7 292.3,210.2 293.2,209.0 294.1,208.1 295.0,207.2 295.9,206.6 296.8,204.8 297.7,202.3 298.6,201.7 299.5,200.8 300.4,198.9 301.3,199.2 302.2,198.2 303.1,196.5 304.0,197.5 304.9,199.3 305.8,199.8 306.7,199.6 307.6,201.7 308.5,202.0 309.4,203.3 310.3,206.8 311.2,208.7 312.1,211.2 313.0,213.2 313.9,216.0 314.8,217.8 315.7,221.0 316.6,223.7 317.5,225.4 318.4,228.3 319.3,228.4 320.2,231.1 321.1,234.6 322.0,236.5 322.9,236.8 323.8,237.8 324.7,238.1 325.6,240.4 326.5,241.6 327.4,240.7 328.3,242.8 329.2,243.4 330.1,243.8 331.0,243.1 331.9,244.7 332.8,243.5 333.7,246.0 334.6,245.2 335.5,244.5 336.4,246.6 337.3,246.6 338.2,245.5 339.1,247.8 340.0,245.6 340.9,246.8 341.8,247.7 342.7,245.3 343.6,248.1 344.5,247.6 345.4,248.0 346.3,247.6 347.2,249.1 348.1,248.5 349.0,249.1 349.9,250.0 350.8,250.0 351.7,252.8 352.6,251.2 353.5,252.4 354.4,253.4 355.3,254.3 356.2,255.7 357.1,256.4 358.0,256.3 358.9,256.9 359.8,257.9 360.7,259.2 361.6,259.7 362.5,259.4 363.4,258.8 364.3,262.4 365.2,262.0 366.1,262.0 367.0,262.4 367.9,262.2 368.8,262.2 369.7,263.0 370.6,263.5 371.5,263.5 372.4,263.1 373.3,264.3 374.2,265.2 375.1,264.6 376.0,265.3 376.9,263.9 377.8,265.5 378.7,265.8 379.6,265.2 380.5,265.0 381.4,266.8 382.3,266.0 383.2,267.2 384.1,266.7 385.0,267.6 385.9,267.0 386.8,266.2 387.7,267.4 388.6,267.3 389.5,268.2 390.4,267.5 391.3,267.6 392.2,268.6 393.1,268.9 394.0,268.7 394.9,269.0 395.8,268.6 396.7,268.9 397.6,269.1 398.5,268.8 399.4,268.6 400.3,268.7 401.2,270.4 402.1,268.7 403.0,268.5 403.9,268.5 404.8,268.8 405.7,269.0 406.6,268.0 407.5,267.5 408.4,269.2 409.3,267.9 410.2,269.4 411.1,269.4 412.0,270.2 412.9,270.7 413.8,269.8 414.7,269.2 415.6,268.8 416.5,269.2 417.4,269.9 418.3,268.4 419.2,270.1 420.1,270.1 421.0,270.6 421.9,270.0 422.8,270.4 423.7,269.8 424.6,270.1 425.5,269.2 426.4,270.7 427.3,271.8 428.2,270.9 429.1,271.1 430.0,270.2 430.9,272.0 431.8,270.5 432.7,271.7 433.6,271.3 434.5,270.6 435.4,272.2 436.3,271.5 437.2,271.7 438.1,272.0 439.0,271.8 439.9,271.6 440.8,272.3 441.7,271.8 442.6,272.3 443.5,271.9 444.4,271.4 445.3,272.1 446.2,272.4 447.1,272.9 448.0,273.9 448.9,271.8 449.8,273.3 450.7,271.6 451.6,272.5 452.5,273.0 453.4,271.7 454.3,272.0 455.2,273.5 456.1,273.4 457.0,273.2 457.9,272.6 458.8,274.7 459.7,272.8 460.6,272.1 461.5,273.7 462.4,272.7 463.3,271.6 464.2,272.4 465.1,271.2 466.0,271.2 466.9,270.4 467.8,268.9 468.7,269.9 469.6,268.7 470.5,267.3 471.4,266.9 472.3,267.6 473.2,266.0 474.1,265.8 475.0,265.7 475.9,264.8 476.8,263.2 477.7,264.4 478.6,264.3 479.5,264.1 480.4,264.5 481.3,263.5 482.2,263.8 483.1,264.5 484.0,263.3 484.9,265.2 485.8,265.5 486.7,265.3 487.6,266.6 488.5,266.4 489.4,265.7 490.3,267.9 491.2,268.0 492.1,268.8 493.0,269.3 493.9,271.0 494.8,271.1 495.7,270.8 496.6,272.4 497.5,273.3 498.4,272.8 499.3,273.6 500.2,274.2 501.1,274.5 502.0,275.7 502.9,276.7 503.8,277.7 504.7,277.5 505.6,277.7 506.5,278.1 507.4,278.5 508.3,277.4 509.2,278.4 510.1,278.3 511.0,278.1 511.9,278.0 512.8,278.0 513.7,278.3 514.6,277.6 515.5,279.0 516.4,278.7 517.3,278.8 518.2,279.1 519.1,279.4 520.0,278.4 520.9,278.8 521.8,277.7 522.7,277.3 523.6,277.5 524.5,280.2 525.4,277.6 526.3,279.4 527.2,280.1 528.1,278.7 529.0,280.2 529.9,280.4 530.8,279.7 531.7,280.7 532.6,279.4 533.5,278.3 534.4,279.2 535.3,278.4 536.2,277.7 537.1,277.6 538.0,280.2 538.9,277.9 539.8,278.1 540.7,277.5 541.6,277.9 542.5,277.5 543.4,277.1 544.3,276.3 545.2,275.9 546.1,276.1 547.0,276.7 547.9,277.7 548.8,276.7 549.7,277.0 550.6,275.7 551.5,274.9 552.4,273.7 553.3,274.4 554.2,272.5 555.1,273.5 556.0,274.7 556.9,273.4 557.8,273.7 558.7,272.3 559.6,271.3 560.5,271.8 561.4,271.6 562.3,272.6 563.2,273.0 564.1,270.9 565.0,271.1 565.9,271.1 566.8,270.9 567.7,270.3 568.6,271.3 569.5,271.6 570.4,271.7 571.3,270.6 572.2,271.6 573.1,270.5 574.0,272.7 574.9,271.5 575.8,272.3 576.7,272.5 577.6,272.6 578.5,272.6 579.4,272.4 580.3,275.3 581.2,274.5 582.1,274.8 583.0,276.5 583.9,275.2 584.8,276.0 585.7,275.9 586.6,277.1 587.5,276.9 588.4,277.0 589.3,276.9 590.2,277.5 591.1,278.4 592.0,276.2 592.9,277.9 593.8,277.9 594.7,278.2 595.6,277.1 596.5,279.3 597.4,278.2 598.3,278.8 599.2,278.8 600.1,278.0 601.0,279.0 601.9,278.1 602.8,278.9 603.7,279.4 604.6,279.7 605.5,279.9 606.4,279.8 607.3,281.6 608.2,280.4 609.1,279.2 610.0,279.7 610.9,279.7 611.8,280.1 612.7,279.9 613.6,279.7 614.5,281.6 615.4,280.5 616.3,280.3 617.2,280.4 618.1,280.5 619.0,281.7 619.9,281.1 620.8,281.7 621.7,278.6 622.6,281.2 623.5,281.9 624.4,282.6 625.3,281.3 626.2,280.0 627.1,281.9 628.0,281.1 628.9,280.2 629.8,281.2 630.7,282.6 631.6,282.7 632.5,282.5 633.4,281.2 634.3,284.0 635.2,281.3 636.1,282.1 637.0,281.2 637.9,283.3 638.8,282.7 639.7,283.1 640.6,282.5 641.5,282.4 642.4,282.7 643.3,281.2 644.2,283.4 645.1,283.3 646.0,282.4 646.9,282.7 647.8,283.0 648.7,284.0 649.6,283.1 650.5,282.9 651.4,282.5 652.3,281.8 653.2,282.5 654.1,283.0 655.0,282.8"/>
</g>
<g fill="#000">
<polygon points="271.4,153.4 280.6,171.8 262.2,171.8"/>
<circle cx="306.8" cy="175.1" r="9.1"/>
<circle cx="353.6" cy="232.8" r="9.1"/>
<circle cx="481.6" cy="242.5" r="9.1"/>
<circle cx="567.1" cy="252.1" r="9.1"/>
</g>
<g stroke="#000" stroke-width="2.2" fill="none">
<rect x="916" y="87.4" width="484.3" height="484.0"/>
<line x1="1012.9" y1="571.4" x2="1012.9" y2="555.5"/>
<line x1="1109.7" y1="571.4" x2="1109.7" y2="555.5"/>
<line x1="1206.6" y1="571.4" x2="1206.6" y2="555.5"/>
<line x1="1303.4" y1="571.4" x2="1303.4" y2="555.5"/>
<line x1="916" y1="483.3" x2="931.8" y2="483.3"/>
<line x1="1400.3" y1="483.3" x2="1384.3" y2="483.3"/>
<line x1="916" y1="395.2" x2="931.8" y2="395.2"/>
<line x1="1400.3" y1="395.2" x2="1384.3" y2="395.2"/>
<line x1="916" y1="307.1" x2="931.8" y2="307.1"/>
<line x1="1400.3" y1="307.1" x2="1384.3" y2="307.1"/>
<line x1="916" y1="219.0" x2="931.8" y2="219.0"/>
<line x1="1400.3" y1="219.0" x2="1384.3" y2="219.0"/>
<line x1="916" y1="130.9" x2="931.8" y2="130.9"/>
<line x1="1400.3" y1="130.9" x2="1384.3" y2="130.9"/>
</g>
<g font-family="'Liberation Sans', sans-serif" fill="#000" stroke="#000" stroke-width="0.3">
<text transform="translate(907.00,580.00) scale(1.0,1.035)" font-size="29.9" text-anchor="end">0</text>
<text transform="translate(907.00,491.90) scale(1.0,1.035)" font-size="29.9" text-anchor="end">200</text>
<text transform="translate(907.00,403.80) scale(1.0,1.035)" font-size="29.9" text-anchor="end">400</text>
<text transform="translate(907.00,315.70) scale(1.0,1.035)" font-size="29.9" text-anchor="end">600</text>
<text transform="translate(907.00,227.60) scale(1.0,1.035)" font-size="29.9" text-anchor="end">800</text>
<text transform="translate(907.00,139.50) scale(1.0,1.035)" font-size="29.9" text-anchor="end">1000</text>
<text transform="translate(1410.00,580.00) scale(1.0,1.035)" font-size="29.9">0</text>
<text transform="translate(1410.00,491.90) scale(1.0,1.035)" font-size="29.9">10</text>
<text transform="translate(1410.00,403.80) scale(1.0,1.035)" font-size="29.9">20</text>
<text transform="translate(1410.00,315.70) scale(1.0,1.035)" font-size="29.9">30</text>
<text transform="translate(1410.00,227.60) scale(1.0,1.035)" font-size="29.9">40</text>
<text transform="translate(1410.00,139.50) scale(1.0,1.035)" font-size="29.9">50</text>
<text transform="translate(916.00,604.90) scale(1.0,1.035)" font-size="29.9" text-anchor="middle">0</text>
<text transform="translate(1012.86,604.90) scale(1.0,1.035)" font-size="29.9" text-anchor="middle">10</text>
<text transform="translate(1109.72,604.90) scale(1.0,1.035)" font-size="29.9" text-anchor="middle">20</text>
<text transform="translate(1206.58,604.90) scale(1.0,1.035)" font-size="29.9" text-anchor="middle">30</text>
<text transform="translate(1303.44,604.90) scale(1.0,1.035)" font-size="29.9" text-anchor="middle">40</text>
<text transform="translate(1400.30,604.90) scale(1.0,1.035)" font-size="29.9" text-anchor="middle">50</text>
<text transform="translate(1014.00,646.80) scale(0.992,1.035)" font-size="29.9">Annealing duration (h)</text>
<text transform="translate(813.00,486.00) rotate(-90) scale(0.994,1.035)" font-size="29.9">Peak height (arb. units)</text>
<text transform="translate(1470.50,211.40) rotate(90) scale(1.0,1.035)" font-size="29.9">Crystallite size (Å)</text>
<text transform="translate(977.30,143.30) scale(1.0,1.035)" font-size="29.9">Peak height</text>
<text transform="translate(1073.00,332.20) scale(1.0,1.035)" font-size="29.9">Crystallite size</text>
</g>
<g stroke="#000" stroke-width="2.7" fill="#000">
<line x1="962" y1="162.4" x2="1043" y2="162.4"/>
<polygon points="952.2,162.4 964.9,151.9 964.9,172.9" stroke="none"/>
<line x1="1269" y1="322.4" x2="1350" y2="322.4"/>
<polygon points="1359.7,322.4 1347,312.1 1347,332.8" stroke="none"/>
</g>
<path d="M956.8,426.6 958.2,422.2 959.6,417.4 961.0,412.3 962.3,407.0 963.7,401.7 965.1,396.2 966.5,390.8 967.9,385.4 969.3,380.0 970.7,374.8 972.1,369.6 973.5,364.6 974.9,359.7 976.3,354.9 977.7,350.2 979.1,345.5 980.5,340.9 981.8,336.4 983.2,331.9 984.6,327.4 986.0,323.0 987.4,318.6 988.8,314.2 990.2,309.9 991.6,305.6 993.0,301.3 994.4,297.2 995.8,293.1 997.2,289.1 998.6,285.2 1000.0,281.4 1001.3,277.8 1002.7,274.3 1004.1,270.9 1005.5,267.6 1006.9,264.4 1008.3,261.4 1009.7,258.4 1011.1,255.6 1012.5,252.8 1013.9,250.1 1015.3,247.5 1016.7,245.0 1018.1,242.5 1019.4,240.1 1020.8,237.8 1022.2,235.6 1023.6,233.5 1025.0,231.4 1026.4,229.4 1027.8,227.5 1029.2,225.7 1030.6,223.9 1032.0,222.3 1033.4,220.7 1034.8,219.3 1036.2,217.8 1037.6,216.5 1038.9,215.2 1040.3,213.9 1041.7,212.6 1043.1,211.4 1044.5,210.2 1045.9,209.0 1047.3,207.8 1048.7,206.6 1050.1,205.4 1051.5,204.3 1052.9,203.1 1054.3,202.0 1055.7,200.8 1057.0,199.7 1058.4,198.6 1059.8,197.6 1061.2,196.5 1062.6,195.4 1064.0,194.4 1065.4,193.4 1066.8,192.3 1068.2,191.3 1069.6,190.4 1071.0,189.4 1072.4,188.4 1073.8,187.5 1075.2,186.6 1076.5,185.6 1077.9,184.7 1079.3,183.9 1080.7,183.0 1082.1,182.1 1083.5,181.3 1084.9,180.5 1086.3,179.6 1087.7,178.8 1089.1,178.1 1090.5,177.3 1091.9,176.5 1093.3,175.8 1094.7,175.1 1096.0,174.4 1097.4,173.7 1098.8,173.0 1100.2,172.3 1101.6,171.7 1103.0,171.0 1104.4,170.4 1105.8,169.8 1107.2,169.2 1108.6,168.6 1110.0,168.0 1111.4,167.5 1112.8,166.9 1114.1,166.4 1115.5,165.9 1116.9,165.4 1118.3,164.9 1119.7,164.4 1121.1,163.9 1122.5,163.5 1123.9,163.0 1125.3,162.6 1126.7,162.2 1128.1,161.7 1129.5,161.3 1130.9,160.9 1132.3,160.6 1133.6,160.2 1135.0,159.8 1136.4,159.5 1137.8,159.1 1139.2,158.8 1140.6,158.5 1142.0,158.2 1143.4,157.9 1144.8,157.6 1146.2,157.3 1147.6,157.0 1149.0,156.7 1150.4,156.5 1151.7,156.2 1153.1,156.0 1154.5,155.7 1155.9,155.5 1157.3,155.3 1158.7,155.0 1160.1,154.8 1161.5,154.6 1162.9,154.4 1164.3,154.2 1165.7,154.0 1167.1,153.9 1168.5,153.7 1169.9,153.5 1171.2,153.4 1172.6,153.2 1174.0,153.0 1175.4,152.9 1176.8,152.8 1178.2,152.6 1179.6,152.5 1181.0,152.4 1182.4,152.2 1183.8,152.1 1185.2,152.0 1186.6,151.9 1188.0,151.8 1189.3,151.7 1190.7,151.6 1192.1,151.5 1193.5,151.4 1194.9,151.3 1196.3,151.2 1197.7,151.2 1199.1,151.1 1200.5,151.0 1201.9,150.9 1203.3,150.9 1204.7,150.8 1206.1,150.7 1207.5,150.7 1208.8,150.6 1210.2,150.6 1211.6,150.5 1213.0,150.5 1214.4,150.4 1215.8,150.4 1217.2,150.3 1218.6,150.3 1220.0,150.2 1221.4,150.2 1222.8,150.2 1224.2,150.1 1225.6,150.1 1227.0,150.1 1228.3,150.0 1229.7,150.0 1231.1,150.0 1232.5,149.9 1233.9,149.9 1235.3,149.9 1236.7,149.9 1238.1,149.8 1239.5,149.8 1240.9,149.8 1242.3,149.8 1243.7,149.7 1245.1,149.7 1246.4,149.7 1247.8,149.7 1249.2,149.6 1250.6,149.6 1252.0,149.6 1253.4,149.6 1254.8,149.6 1256.2,149.5 1257.6,149.5 1259.0,149.5 1260.4,149.5 1261.8,149.5 1263.2,149.4 1264.6,149.4 1265.9,149.4 1267.3,149.4 1268.7,149.4 1270.1,149.3 1271.5,149.3 1272.9,149.3 1274.3,149.3 1275.7,149.3 1277.1,149.2 1278.5,149.2 1279.9,149.2 1281.3,149.2 1282.7,149.2 1284.0,149.1 1285.4,149.1 1286.8,149.1 1288.2,149.1 1289.6,149.1 1291.0,149.0 1292.4,149.0 1293.8,149.0 1295.2,149.0 1296.6,149.0 1298.0,149.0 1299.4,149.0 1300.8,149.0 1302.2,149.0 1303.5,149.0 1304.9,149.0 1306.3,149.0 1307.7,149.0 1309.1,149.0 1310.5,149.0 1311.9,149.0 1313.3,149.0 1314.7,149.0 1316.1,149.0 1317.5,149.0 1318.9,149.0 1320.3,149.0 1321.7,149.0 1323.0,149.0 1324.4,149.0 1325.8,149.0 1327.2,149.0 1328.6,149.0 1330.0,149.0 1331.4,149.0 1332.8,149.0 1334.2,149.0 1335.6,149.0 1337.0,149.0 1338.4,149.0 1339.8,149.0 1341.1,149.0 1342.5,149.0 1343.9,149.0 1345.3,149.0 1346.7,149.0 1348.1,149.0 1349.5,149.0 1350.9,149.0 1352.3,149.0 1353.7,149.0 1355.1,149.0 1356.5,149.0 1357.9,149.0 1359.3,149.0 1360.6,149.0 1362.0,149.0 1363.4,149.0 1364.8,149.0 1366.2,149.0 1367.6,149.0 1369.0,149.0 1370.4,149.0 1371.8,149.0 1373.2,149.0" stroke="#000" stroke-width="2.2" fill="none" stroke-dasharray="4.3 4.2" stroke-linecap="round"/>
<line x1="960.2" y1="277.6" x2="1374" y2="252.3" stroke="#000" stroke-width="2.2" stroke-dasharray="4.3 4.2" stroke-linecap="round"/>
<g fill="#000">
<circle cx="954.7" cy="458.2" r="8.5"/>
<circle cx="974.1" cy="389.5" r="8.5"/>
<circle cx="993.5" cy="322.5" r="8.5"/>
<circle cx="1012.9" cy="286.0" r="8.5"/>
<circle cx="1071.0" cy="184.5" r="8.5"/>
<circle cx="1148.5" cy="169.7" r="8.5"/>
<circle cx="1380.9" cy="145.0" r="8.5"/>
</g>
<g fill="none" stroke="#000" stroke-width="2.1" stroke-linejoin="miter">
<polygon points="954.7,302.4 964.3,318.1 945.1,318.1"/>
<polygon points="974.1,341.7 983.7,355.8 964.5,355.8"/>
<polygon points="993.5,263.7 1003.1,279.1 983.9,279.1"/>
<polygon points="1012.9,294.8 1022.5,307.1 1003.3,307.1"/>
<polygon points="1071.0,237.3 1080.6,252.5 1061.4,252.5"/>
<polygon points="1148.5,248.6 1158.1,263.9 1138.9,263.9"/>
<polygon points="1380.9,241.1 1390.5,255.0 1371.3,255.0"/>
</g>
</svg>
</body></html>
